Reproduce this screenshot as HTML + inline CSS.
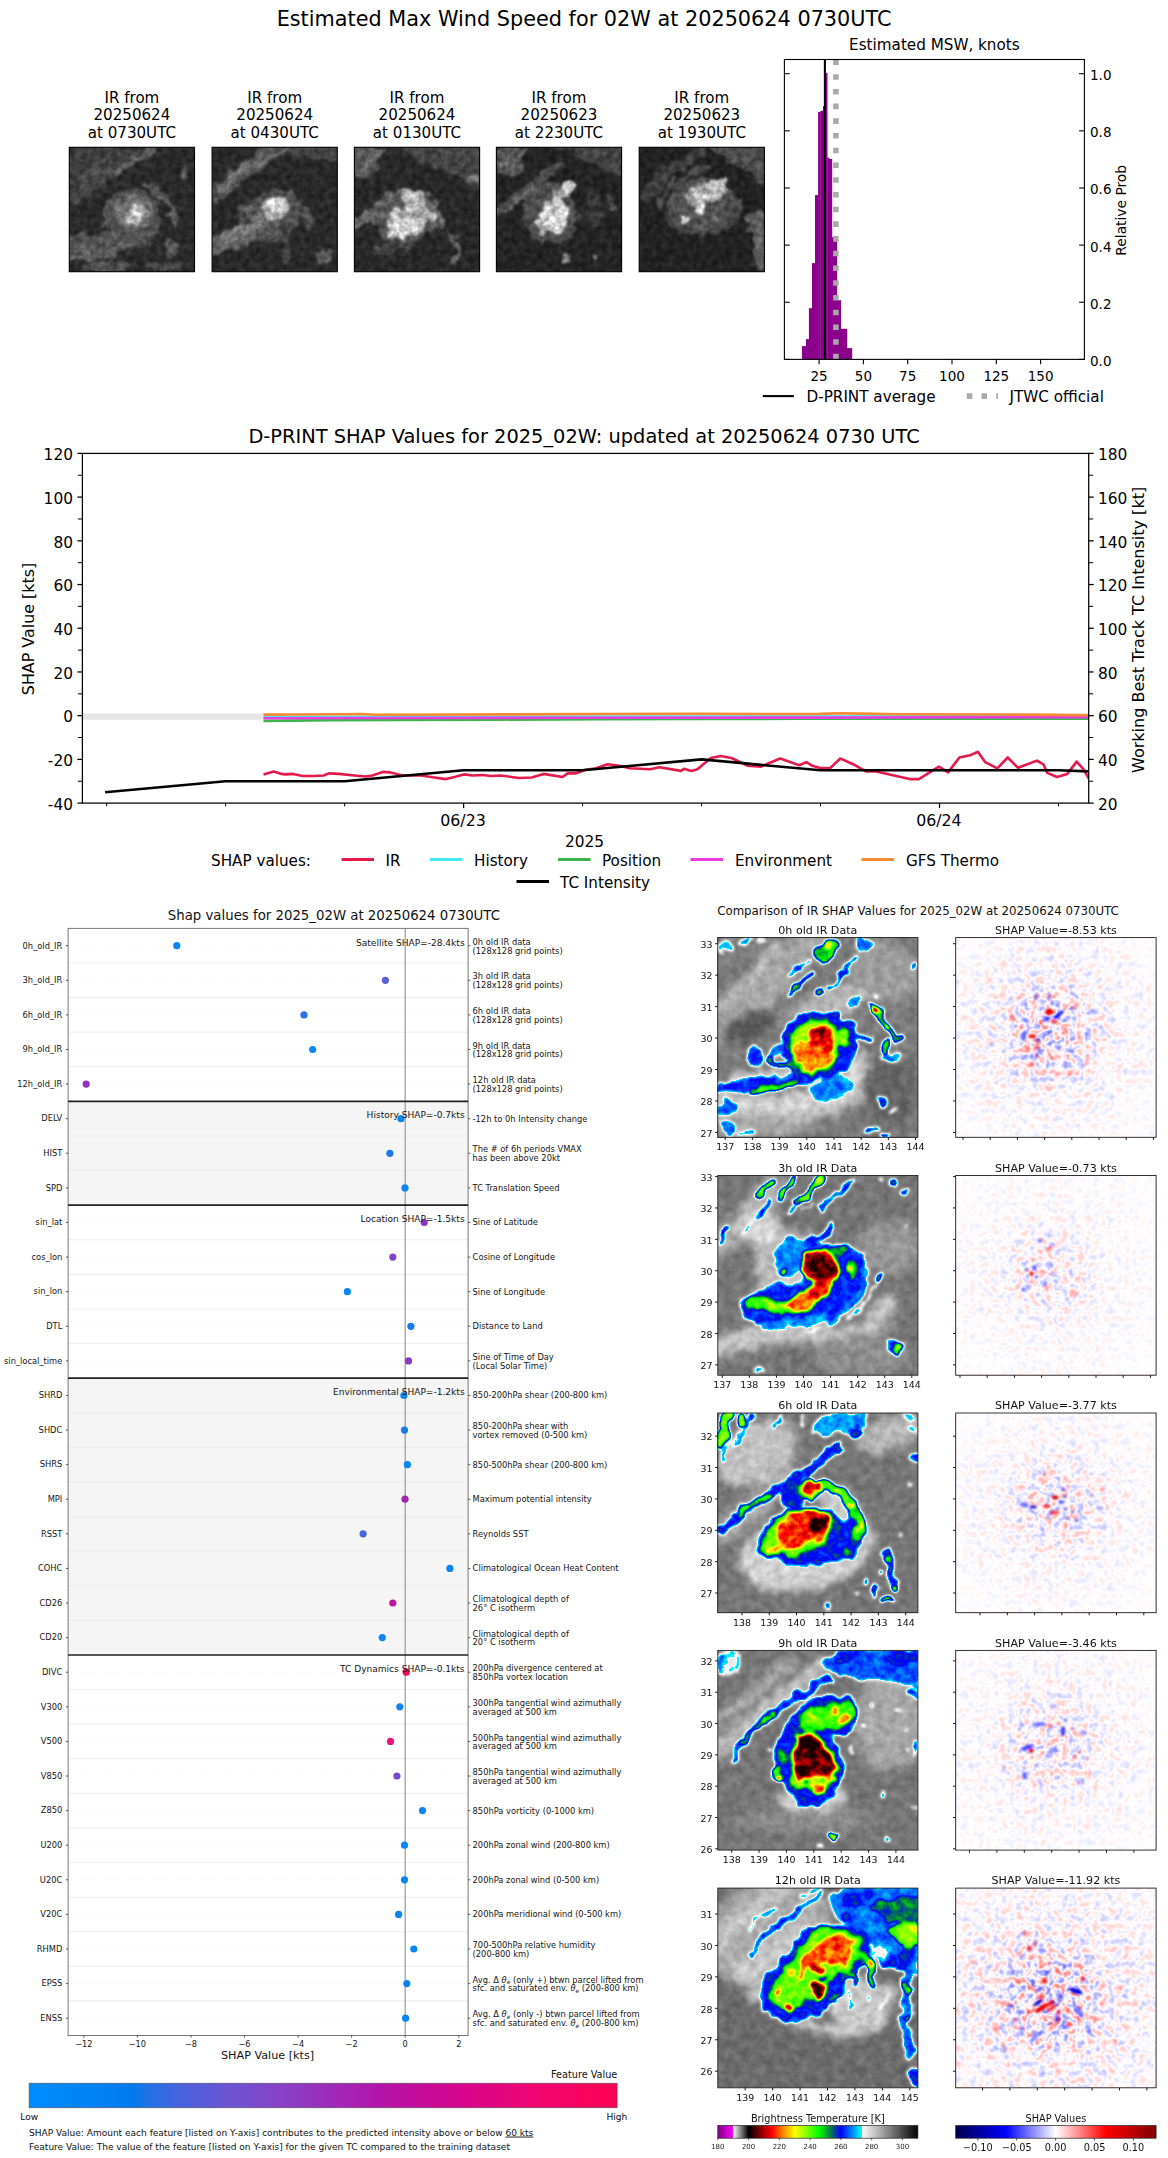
<!DOCTYPE html>
<html><head><meta charset="utf-8"><title>D-PRINT SHAP 02W</title>
<style>html,body{margin:0;padding:0;background:#fff}svg{display:block}text{font-family:"DejaVu Sans", "Liberation Sans", sans-serif;}</style>
</head><body>
<svg width="1168" height="2158" viewBox="0 0 1168 2158">
<rect width="1168" height="2158" fill="#fff"/>
<defs>
<filter id="irf0" filterUnits="userSpaceOnUse" x="705.8" y="925.6" width="224.1" height="223.7" color-interpolation-filters="sRGB"><feTurbulence type="fractalNoise" baseFrequency="0.07" numOctaves="2" seed="23" result="d"/><feDisplacementMap in="SourceGraphic" in2="d" scale="13" xChannelSelector="R" yChannelSelector="G" result="s"/><feGaussianBlur in="s" stdDeviation="1.7" result="b"/><feTurbulence type="fractalNoise" baseFrequency="0.12" numOctaves="3" seed="3" result="t"/><feColorMatrix in="t" type="matrix" values="1.6 0 0 0 -0.3  1.6 0 0 0 -0.3  1.6 0 0 0 -0.3  0 0 0 0 1" result="n"/><feComposite in="b" in2="n" operator="arithmetic" k1="0.13" k2="0.935" k3="0.02" k4="-0.01" result="f"/><feComponentTransfer in="f"><feFuncR type="table" tableValues="0 0.014 0.027 0.041 0.055 0.068 0.082 0.096 0.11 0.123 0.137 0.151 0.164 0.178 0.192 0.205 0.219 0.233 0.247 0.26 0.274 0.288 0.301 0.315 0.329 0.342 0.356 0.37 0.384 0.397 0.411 0.425 0.438 0.452 0.466 0.479 0.493 0.507 0.521 0.534 0.548 0.562 0.575 0.589 0.603 0.616 0.63 0.644 0.658 0.671 0.685 0.699 0.712 0.726 0.74 0.753 0.767 0.781 0.795 0.808 0.822 0.836 0.849 0.863 0.877 0.89 0.904 0.918 0.932 0.945 0.959 0.973 0.986 1 0 0 0 0 0 0 0 0 0 0 0 0 0 0 0 0 0 0 0 0 0 0 0 0 0 0 0 0 0 0 0 0 0 0 0 0 0 0 0 0 0 0 0 0 0 0 0 0 0 0 0 0 0 0 0 0.031 0.063 0.094 0.125 0.157 0.188 0.22 0.251 0.282 0.314 0.345 0.376 0.408 0.439 0.471 0.502 0.533 0.564 0.595 0.626 0.658 0.689 0.72 0.751 0.782 0.813 0.844 0.875 0.907 0.938 0.969 1 1 1 1 1 1 1 1 1 1 1 1 1 1 1 1 1 1 1 1 1 1 1 1 1 1 1 1 1 1 1 0.967 0.934 0.9 0.867 0.834 0.801 0.768 0.734 0.701 0.668 0.635 0.602 0.568 0.535 0.502 0.468 0.435 0.402 0.368 0.335 0.301 0.268 0.234 0.201 0.167 0.134 0.1 0.1 0.1 0.1 0.1 0.1 0.1 0.1 0.1 0.1 0.1 0.1 0.1 0.1 0.1 0.1 0.1 0.1 0.1 0.1 0.1 0.1 0.1 0.1"/><feFuncG type="table" tableValues="0 0.014 0.027 0.041 0.055 0.068 0.082 0.096 0.11 0.123 0.137 0.151 0.164 0.178 0.192 0.205 0.219 0.233 0.247 0.26 0.274 0.288 0.301 0.315 0.329 0.342 0.356 0.37 0.384 0.397 0.411 0.425 0.438 0.452 0.466 0.479 0.493 0.507 0.521 0.534 0.548 0.562 0.575 0.589 0.603 0.616 0.63 0.644 0.658 0.671 0.685 0.699 0.712 0.726 0.74 0.753 0.767 0.781 0.795 0.808 0.822 0.836 0.849 0.863 0.877 0.89 0.904 0.918 0.932 0.945 0.959 0.973 0.986 1 0.969 0.93 0.891 0.852 0.813 0.774 0.735 0.697 0.658 0.619 0.58 0.541 0.502 0.466 0.43 0.394 0.359 0.323 0.287 0.251 0.215 0.179 0.143 0.108 0.072 0.036 0 0.036 0.072 0.108 0.143 0.179 0.215 0.251 0.287 0.323 0.359 0.394 0.43 0.466 0.502 0.538 0.573 0.609 0.644 0.68 0.715 0.751 0.787 0.822 0.858 0.893 0.929 0.964 1 1 1 1 1 1 1 1 1 1 1 1 1 1 1 1 1 1 1 1 1 1 1 1 1 1 1 1 1 1 1 1 1 0.969 0.938 0.907 0.876 0.844 0.813 0.782 0.751 0.72 0.689 0.658 0.627 0.596 0.564 0.533 0.498 0.462 0.427 0.391 0.356 0.32 0.284 0.249 0.213 0.178 0.142 0.107 0.071 0.036 0 0 0 0 0 0 0 0 0 0 0 0 0 0 0 0 0 0 0 0 0 0 0 0 0 0 0 0 0 0 0 0 0 0 0 0 0 0 0 0 0 0 0 0 0 0 0 0 0 0 0"/><feFuncB type="table" tableValues="0 0.014 0.027 0.041 0.055 0.068 0.082 0.096 0.11 0.123 0.137 0.151 0.164 0.178 0.192 0.205 0.219 0.233 0.247 0.26 0.274 0.288 0.301 0.315 0.329 0.342 0.356 0.37 0.384 0.397 0.411 0.425 0.438 0.452 0.466 0.479 0.493 0.507 0.521 0.534 0.548 0.562 0.575 0.589 0.603 0.616 0.63 0.644 0.658 0.671 0.685 0.699 0.712 0.726 0.74 0.753 0.767 0.781 0.795 0.808 0.822 0.836 0.849 0.863 0.877 0.89 0.904 0.918 0.932 0.945 0.959 0.973 0.986 1 1 1 1 1 1 1 1 1 1 1 1 1 1 1 1 1 1 1 1 1 1 1 1 1 1 1 1 0.946 0.893 0.839 0.786 0.732 0.679 0.625 0.572 0.518 0.465 0.411 0.358 0.304 0.251 0.233 0.215 0.197 0.179 0.161 0.143 0.125 0.108 0.09 0.072 0.054 0.036 0.018 0 0 0 0 0 0 0 0 0 0 0 0 0 0 0 0 0 0 0 0 0 0 0 0 0 0 0 0 0 0 0 0 0 0 0 0 0 0 0 0 0 0 0 0 0 0 0 0 0 0 0 0 0 0 0 0 0 0 0 0 0 0 0 0 0 0 0 0 0 0 0 0 0 0 0 0 0 0 0 0 0 0 0 0 0 0 0 0 0 0 0 0 0 0 0 0 0 0 0 0 0 0 0 0 0 0 0 0 0 0 0 0 0"/></feComponentTransfer></filter>
<clipPath id="irc0"><rect x="717.8" y="937.6" width="200.1" height="199.7"/></clipPath>
<filter id="irf1" filterUnits="userSpaceOnUse" x="705.8" y="1163.5" width="224.1" height="223.7" color-interpolation-filters="sRGB"><feTurbulence type="fractalNoise" baseFrequency="0.07" numOctaves="2" seed="24" result="d"/><feDisplacementMap in="SourceGraphic" in2="d" scale="13" xChannelSelector="R" yChannelSelector="G" result="s"/><feGaussianBlur in="s" stdDeviation="1.7" result="b"/><feTurbulence type="fractalNoise" baseFrequency="0.12" numOctaves="3" seed="4" result="t"/><feColorMatrix in="t" type="matrix" values="1.6 0 0 0 -0.3  1.6 0 0 0 -0.3  1.6 0 0 0 -0.3  0 0 0 0 1" result="n"/><feComposite in="b" in2="n" operator="arithmetic" k1="0.13" k2="0.935" k3="0.02" k4="-0.01" result="f"/><feComponentTransfer in="f"><feFuncR type="table" tableValues="0 0.014 0.027 0.041 0.055 0.068 0.082 0.096 0.11 0.123 0.137 0.151 0.164 0.178 0.192 0.205 0.219 0.233 0.247 0.26 0.274 0.288 0.301 0.315 0.329 0.342 0.356 0.37 0.384 0.397 0.411 0.425 0.438 0.452 0.466 0.479 0.493 0.507 0.521 0.534 0.548 0.562 0.575 0.589 0.603 0.616 0.63 0.644 0.658 0.671 0.685 0.699 0.712 0.726 0.74 0.753 0.767 0.781 0.795 0.808 0.822 0.836 0.849 0.863 0.877 0.89 0.904 0.918 0.932 0.945 0.959 0.973 0.986 1 0 0 0 0 0 0 0 0 0 0 0 0 0 0 0 0 0 0 0 0 0 0 0 0 0 0 0 0 0 0 0 0 0 0 0 0 0 0 0 0 0 0 0 0 0 0 0 0 0 0 0 0 0 0 0 0.031 0.063 0.094 0.125 0.157 0.188 0.22 0.251 0.282 0.314 0.345 0.376 0.408 0.439 0.471 0.502 0.533 0.564 0.595 0.626 0.658 0.689 0.72 0.751 0.782 0.813 0.844 0.875 0.907 0.938 0.969 1 1 1 1 1 1 1 1 1 1 1 1 1 1 1 1 1 1 1 1 1 1 1 1 1 1 1 1 1 1 1 0.967 0.934 0.9 0.867 0.834 0.801 0.768 0.734 0.701 0.668 0.635 0.602 0.568 0.535 0.502 0.468 0.435 0.402 0.368 0.335 0.301 0.268 0.234 0.201 0.167 0.134 0.1 0.1 0.1 0.1 0.1 0.1 0.1 0.1 0.1 0.1 0.1 0.1 0.1 0.1 0.1 0.1 0.1 0.1 0.1 0.1 0.1 0.1 0.1 0.1"/><feFuncG type="table" tableValues="0 0.014 0.027 0.041 0.055 0.068 0.082 0.096 0.11 0.123 0.137 0.151 0.164 0.178 0.192 0.205 0.219 0.233 0.247 0.26 0.274 0.288 0.301 0.315 0.329 0.342 0.356 0.37 0.384 0.397 0.411 0.425 0.438 0.452 0.466 0.479 0.493 0.507 0.521 0.534 0.548 0.562 0.575 0.589 0.603 0.616 0.63 0.644 0.658 0.671 0.685 0.699 0.712 0.726 0.74 0.753 0.767 0.781 0.795 0.808 0.822 0.836 0.849 0.863 0.877 0.89 0.904 0.918 0.932 0.945 0.959 0.973 0.986 1 0.969 0.93 0.891 0.852 0.813 0.774 0.735 0.697 0.658 0.619 0.58 0.541 0.502 0.466 0.43 0.394 0.359 0.323 0.287 0.251 0.215 0.179 0.143 0.108 0.072 0.036 0 0.036 0.072 0.108 0.143 0.179 0.215 0.251 0.287 0.323 0.359 0.394 0.43 0.466 0.502 0.538 0.573 0.609 0.644 0.68 0.715 0.751 0.787 0.822 0.858 0.893 0.929 0.964 1 1 1 1 1 1 1 1 1 1 1 1 1 1 1 1 1 1 1 1 1 1 1 1 1 1 1 1 1 1 1 1 1 0.969 0.938 0.907 0.876 0.844 0.813 0.782 0.751 0.72 0.689 0.658 0.627 0.596 0.564 0.533 0.498 0.462 0.427 0.391 0.356 0.32 0.284 0.249 0.213 0.178 0.142 0.107 0.071 0.036 0 0 0 0 0 0 0 0 0 0 0 0 0 0 0 0 0 0 0 0 0 0 0 0 0 0 0 0 0 0 0 0 0 0 0 0 0 0 0 0 0 0 0 0 0 0 0 0 0 0 0"/><feFuncB type="table" tableValues="0 0.014 0.027 0.041 0.055 0.068 0.082 0.096 0.11 0.123 0.137 0.151 0.164 0.178 0.192 0.205 0.219 0.233 0.247 0.26 0.274 0.288 0.301 0.315 0.329 0.342 0.356 0.37 0.384 0.397 0.411 0.425 0.438 0.452 0.466 0.479 0.493 0.507 0.521 0.534 0.548 0.562 0.575 0.589 0.603 0.616 0.63 0.644 0.658 0.671 0.685 0.699 0.712 0.726 0.74 0.753 0.767 0.781 0.795 0.808 0.822 0.836 0.849 0.863 0.877 0.89 0.904 0.918 0.932 0.945 0.959 0.973 0.986 1 1 1 1 1 1 1 1 1 1 1 1 1 1 1 1 1 1 1 1 1 1 1 1 1 1 1 1 0.946 0.893 0.839 0.786 0.732 0.679 0.625 0.572 0.518 0.465 0.411 0.358 0.304 0.251 0.233 0.215 0.197 0.179 0.161 0.143 0.125 0.108 0.09 0.072 0.054 0.036 0.018 0 0 0 0 0 0 0 0 0 0 0 0 0 0 0 0 0 0 0 0 0 0 0 0 0 0 0 0 0 0 0 0 0 0 0 0 0 0 0 0 0 0 0 0 0 0 0 0 0 0 0 0 0 0 0 0 0 0 0 0 0 0 0 0 0 0 0 0 0 0 0 0 0 0 0 0 0 0 0 0 0 0 0 0 0 0 0 0 0 0 0 0 0 0 0 0 0 0 0 0 0 0 0 0 0 0 0 0 0 0 0 0 0"/></feComponentTransfer></filter>
<clipPath id="irc1"><rect x="717.8" y="1175.5" width="200.1" height="199.7"/></clipPath>
<filter id="irf2" filterUnits="userSpaceOnUse" x="705.8" y="1401.0" width="224.1" height="223.7" color-interpolation-filters="sRGB"><feTurbulence type="fractalNoise" baseFrequency="0.07" numOctaves="2" seed="25" result="d"/><feDisplacementMap in="SourceGraphic" in2="d" scale="13" xChannelSelector="R" yChannelSelector="G" result="s"/><feGaussianBlur in="s" stdDeviation="1.7" result="b"/><feTurbulence type="fractalNoise" baseFrequency="0.12" numOctaves="3" seed="5" result="t"/><feColorMatrix in="t" type="matrix" values="1.6 0 0 0 -0.3  1.6 0 0 0 -0.3  1.6 0 0 0 -0.3  0 0 0 0 1" result="n"/><feComposite in="b" in2="n" operator="arithmetic" k1="0.13" k2="0.935" k3="0.02" k4="-0.01" result="f"/><feComponentTransfer in="f"><feFuncR type="table" tableValues="0 0.014 0.027 0.041 0.055 0.068 0.082 0.096 0.11 0.123 0.137 0.151 0.164 0.178 0.192 0.205 0.219 0.233 0.247 0.26 0.274 0.288 0.301 0.315 0.329 0.342 0.356 0.37 0.384 0.397 0.411 0.425 0.438 0.452 0.466 0.479 0.493 0.507 0.521 0.534 0.548 0.562 0.575 0.589 0.603 0.616 0.63 0.644 0.658 0.671 0.685 0.699 0.712 0.726 0.74 0.753 0.767 0.781 0.795 0.808 0.822 0.836 0.849 0.863 0.877 0.89 0.904 0.918 0.932 0.945 0.959 0.973 0.986 1 0 0 0 0 0 0 0 0 0 0 0 0 0 0 0 0 0 0 0 0 0 0 0 0 0 0 0 0 0 0 0 0 0 0 0 0 0 0 0 0 0 0 0 0 0 0 0 0 0 0 0 0 0 0 0 0.031 0.063 0.094 0.125 0.157 0.188 0.22 0.251 0.282 0.314 0.345 0.376 0.408 0.439 0.471 0.502 0.533 0.564 0.595 0.626 0.658 0.689 0.72 0.751 0.782 0.813 0.844 0.875 0.907 0.938 0.969 1 1 1 1 1 1 1 1 1 1 1 1 1 1 1 1 1 1 1 1 1 1 1 1 1 1 1 1 1 1 1 0.967 0.934 0.9 0.867 0.834 0.801 0.768 0.734 0.701 0.668 0.635 0.602 0.568 0.535 0.502 0.468 0.435 0.402 0.368 0.335 0.301 0.268 0.234 0.201 0.167 0.134 0.1 0.1 0.1 0.1 0.1 0.1 0.1 0.1 0.1 0.1 0.1 0.1 0.1 0.1 0.1 0.1 0.1 0.1 0.1 0.1 0.1 0.1 0.1 0.1"/><feFuncG type="table" tableValues="0 0.014 0.027 0.041 0.055 0.068 0.082 0.096 0.11 0.123 0.137 0.151 0.164 0.178 0.192 0.205 0.219 0.233 0.247 0.26 0.274 0.288 0.301 0.315 0.329 0.342 0.356 0.37 0.384 0.397 0.411 0.425 0.438 0.452 0.466 0.479 0.493 0.507 0.521 0.534 0.548 0.562 0.575 0.589 0.603 0.616 0.63 0.644 0.658 0.671 0.685 0.699 0.712 0.726 0.74 0.753 0.767 0.781 0.795 0.808 0.822 0.836 0.849 0.863 0.877 0.89 0.904 0.918 0.932 0.945 0.959 0.973 0.986 1 0.969 0.93 0.891 0.852 0.813 0.774 0.735 0.697 0.658 0.619 0.58 0.541 0.502 0.466 0.43 0.394 0.359 0.323 0.287 0.251 0.215 0.179 0.143 0.108 0.072 0.036 0 0.036 0.072 0.108 0.143 0.179 0.215 0.251 0.287 0.323 0.359 0.394 0.43 0.466 0.502 0.538 0.573 0.609 0.644 0.68 0.715 0.751 0.787 0.822 0.858 0.893 0.929 0.964 1 1 1 1 1 1 1 1 1 1 1 1 1 1 1 1 1 1 1 1 1 1 1 1 1 1 1 1 1 1 1 1 1 0.969 0.938 0.907 0.876 0.844 0.813 0.782 0.751 0.72 0.689 0.658 0.627 0.596 0.564 0.533 0.498 0.462 0.427 0.391 0.356 0.32 0.284 0.249 0.213 0.178 0.142 0.107 0.071 0.036 0 0 0 0 0 0 0 0 0 0 0 0 0 0 0 0 0 0 0 0 0 0 0 0 0 0 0 0 0 0 0 0 0 0 0 0 0 0 0 0 0 0 0 0 0 0 0 0 0 0 0"/><feFuncB type="table" tableValues="0 0.014 0.027 0.041 0.055 0.068 0.082 0.096 0.11 0.123 0.137 0.151 0.164 0.178 0.192 0.205 0.219 0.233 0.247 0.26 0.274 0.288 0.301 0.315 0.329 0.342 0.356 0.37 0.384 0.397 0.411 0.425 0.438 0.452 0.466 0.479 0.493 0.507 0.521 0.534 0.548 0.562 0.575 0.589 0.603 0.616 0.63 0.644 0.658 0.671 0.685 0.699 0.712 0.726 0.74 0.753 0.767 0.781 0.795 0.808 0.822 0.836 0.849 0.863 0.877 0.89 0.904 0.918 0.932 0.945 0.959 0.973 0.986 1 1 1 1 1 1 1 1 1 1 1 1 1 1 1 1 1 1 1 1 1 1 1 1 1 1 1 1 0.946 0.893 0.839 0.786 0.732 0.679 0.625 0.572 0.518 0.465 0.411 0.358 0.304 0.251 0.233 0.215 0.197 0.179 0.161 0.143 0.125 0.108 0.09 0.072 0.054 0.036 0.018 0 0 0 0 0 0 0 0 0 0 0 0 0 0 0 0 0 0 0 0 0 0 0 0 0 0 0 0 0 0 0 0 0 0 0 0 0 0 0 0 0 0 0 0 0 0 0 0 0 0 0 0 0 0 0 0 0 0 0 0 0 0 0 0 0 0 0 0 0 0 0 0 0 0 0 0 0 0 0 0 0 0 0 0 0 0 0 0 0 0 0 0 0 0 0 0 0 0 0 0 0 0 0 0 0 0 0 0 0 0 0 0 0"/></feComponentTransfer></filter>
<clipPath id="irc2"><rect x="717.8" y="1413.0" width="200.1" height="199.7"/></clipPath>
<filter id="irf3" filterUnits="userSpaceOnUse" x="705.8" y="1638.4" width="224.1" height="223.7" color-interpolation-filters="sRGB"><feTurbulence type="fractalNoise" baseFrequency="0.07" numOctaves="2" seed="26" result="d"/><feDisplacementMap in="SourceGraphic" in2="d" scale="13" xChannelSelector="R" yChannelSelector="G" result="s"/><feGaussianBlur in="s" stdDeviation="1.7" result="b"/><feTurbulence type="fractalNoise" baseFrequency="0.12" numOctaves="3" seed="6" result="t"/><feColorMatrix in="t" type="matrix" values="1.6 0 0 0 -0.3  1.6 0 0 0 -0.3  1.6 0 0 0 -0.3  0 0 0 0 1" result="n"/><feComposite in="b" in2="n" operator="arithmetic" k1="0.13" k2="0.935" k3="0.02" k4="-0.01" result="f"/><feComponentTransfer in="f"><feFuncR type="table" tableValues="0 0.014 0.027 0.041 0.055 0.068 0.082 0.096 0.11 0.123 0.137 0.151 0.164 0.178 0.192 0.205 0.219 0.233 0.247 0.26 0.274 0.288 0.301 0.315 0.329 0.342 0.356 0.37 0.384 0.397 0.411 0.425 0.438 0.452 0.466 0.479 0.493 0.507 0.521 0.534 0.548 0.562 0.575 0.589 0.603 0.616 0.63 0.644 0.658 0.671 0.685 0.699 0.712 0.726 0.74 0.753 0.767 0.781 0.795 0.808 0.822 0.836 0.849 0.863 0.877 0.89 0.904 0.918 0.932 0.945 0.959 0.973 0.986 1 0 0 0 0 0 0 0 0 0 0 0 0 0 0 0 0 0 0 0 0 0 0 0 0 0 0 0 0 0 0 0 0 0 0 0 0 0 0 0 0 0 0 0 0 0 0 0 0 0 0 0 0 0 0 0 0.031 0.063 0.094 0.125 0.157 0.188 0.22 0.251 0.282 0.314 0.345 0.376 0.408 0.439 0.471 0.502 0.533 0.564 0.595 0.626 0.658 0.689 0.72 0.751 0.782 0.813 0.844 0.875 0.907 0.938 0.969 1 1 1 1 1 1 1 1 1 1 1 1 1 1 1 1 1 1 1 1 1 1 1 1 1 1 1 1 1 1 1 0.967 0.934 0.9 0.867 0.834 0.801 0.768 0.734 0.701 0.668 0.635 0.602 0.568 0.535 0.502 0.468 0.435 0.402 0.368 0.335 0.301 0.268 0.234 0.201 0.167 0.134 0.1 0.1 0.1 0.1 0.1 0.1 0.1 0.1 0.1 0.1 0.1 0.1 0.1 0.1 0.1 0.1 0.1 0.1 0.1 0.1 0.1 0.1 0.1 0.1"/><feFuncG type="table" tableValues="0 0.014 0.027 0.041 0.055 0.068 0.082 0.096 0.11 0.123 0.137 0.151 0.164 0.178 0.192 0.205 0.219 0.233 0.247 0.26 0.274 0.288 0.301 0.315 0.329 0.342 0.356 0.37 0.384 0.397 0.411 0.425 0.438 0.452 0.466 0.479 0.493 0.507 0.521 0.534 0.548 0.562 0.575 0.589 0.603 0.616 0.63 0.644 0.658 0.671 0.685 0.699 0.712 0.726 0.74 0.753 0.767 0.781 0.795 0.808 0.822 0.836 0.849 0.863 0.877 0.89 0.904 0.918 0.932 0.945 0.959 0.973 0.986 1 0.969 0.93 0.891 0.852 0.813 0.774 0.735 0.697 0.658 0.619 0.58 0.541 0.502 0.466 0.43 0.394 0.359 0.323 0.287 0.251 0.215 0.179 0.143 0.108 0.072 0.036 0 0.036 0.072 0.108 0.143 0.179 0.215 0.251 0.287 0.323 0.359 0.394 0.43 0.466 0.502 0.538 0.573 0.609 0.644 0.68 0.715 0.751 0.787 0.822 0.858 0.893 0.929 0.964 1 1 1 1 1 1 1 1 1 1 1 1 1 1 1 1 1 1 1 1 1 1 1 1 1 1 1 1 1 1 1 1 1 0.969 0.938 0.907 0.876 0.844 0.813 0.782 0.751 0.72 0.689 0.658 0.627 0.596 0.564 0.533 0.498 0.462 0.427 0.391 0.356 0.32 0.284 0.249 0.213 0.178 0.142 0.107 0.071 0.036 0 0 0 0 0 0 0 0 0 0 0 0 0 0 0 0 0 0 0 0 0 0 0 0 0 0 0 0 0 0 0 0 0 0 0 0 0 0 0 0 0 0 0 0 0 0 0 0 0 0 0"/><feFuncB type="table" tableValues="0 0.014 0.027 0.041 0.055 0.068 0.082 0.096 0.11 0.123 0.137 0.151 0.164 0.178 0.192 0.205 0.219 0.233 0.247 0.26 0.274 0.288 0.301 0.315 0.329 0.342 0.356 0.37 0.384 0.397 0.411 0.425 0.438 0.452 0.466 0.479 0.493 0.507 0.521 0.534 0.548 0.562 0.575 0.589 0.603 0.616 0.63 0.644 0.658 0.671 0.685 0.699 0.712 0.726 0.74 0.753 0.767 0.781 0.795 0.808 0.822 0.836 0.849 0.863 0.877 0.89 0.904 0.918 0.932 0.945 0.959 0.973 0.986 1 1 1 1 1 1 1 1 1 1 1 1 1 1 1 1 1 1 1 1 1 1 1 1 1 1 1 1 0.946 0.893 0.839 0.786 0.732 0.679 0.625 0.572 0.518 0.465 0.411 0.358 0.304 0.251 0.233 0.215 0.197 0.179 0.161 0.143 0.125 0.108 0.09 0.072 0.054 0.036 0.018 0 0 0 0 0 0 0 0 0 0 0 0 0 0 0 0 0 0 0 0 0 0 0 0 0 0 0 0 0 0 0 0 0 0 0 0 0 0 0 0 0 0 0 0 0 0 0 0 0 0 0 0 0 0 0 0 0 0 0 0 0 0 0 0 0 0 0 0 0 0 0 0 0 0 0 0 0 0 0 0 0 0 0 0 0 0 0 0 0 0 0 0 0 0 0 0 0 0 0 0 0 0 0 0 0 0 0 0 0 0 0 0 0"/></feComponentTransfer></filter>
<clipPath id="irc3"><rect x="717.8" y="1650.4" width="200.1" height="199.7"/></clipPath>
<filter id="irf4" filterUnits="userSpaceOnUse" x="705.8" y="1876.1" width="224.1" height="223.7" color-interpolation-filters="sRGB"><feTurbulence type="fractalNoise" baseFrequency="0.07" numOctaves="2" seed="27" result="d"/><feDisplacementMap in="SourceGraphic" in2="d" scale="13" xChannelSelector="R" yChannelSelector="G" result="s"/><feGaussianBlur in="s" stdDeviation="1.7" result="b"/><feTurbulence type="fractalNoise" baseFrequency="0.12" numOctaves="3" seed="7" result="t"/><feColorMatrix in="t" type="matrix" values="1.6 0 0 0 -0.3  1.6 0 0 0 -0.3  1.6 0 0 0 -0.3  0 0 0 0 1" result="n"/><feComposite in="b" in2="n" operator="arithmetic" k1="0.13" k2="0.935" k3="0.02" k4="-0.01" result="f"/><feComponentTransfer in="f"><feFuncR type="table" tableValues="0 0.014 0.027 0.041 0.055 0.068 0.082 0.096 0.11 0.123 0.137 0.151 0.164 0.178 0.192 0.205 0.219 0.233 0.247 0.26 0.274 0.288 0.301 0.315 0.329 0.342 0.356 0.37 0.384 0.397 0.411 0.425 0.438 0.452 0.466 0.479 0.493 0.507 0.521 0.534 0.548 0.562 0.575 0.589 0.603 0.616 0.63 0.644 0.658 0.671 0.685 0.699 0.712 0.726 0.74 0.753 0.767 0.781 0.795 0.808 0.822 0.836 0.849 0.863 0.877 0.89 0.904 0.918 0.932 0.945 0.959 0.973 0.986 1 0 0 0 0 0 0 0 0 0 0 0 0 0 0 0 0 0 0 0 0 0 0 0 0 0 0 0 0 0 0 0 0 0 0 0 0 0 0 0 0 0 0 0 0 0 0 0 0 0 0 0 0 0 0 0 0.031 0.063 0.094 0.125 0.157 0.188 0.22 0.251 0.282 0.314 0.345 0.376 0.408 0.439 0.471 0.502 0.533 0.564 0.595 0.626 0.658 0.689 0.72 0.751 0.782 0.813 0.844 0.875 0.907 0.938 0.969 1 1 1 1 1 1 1 1 1 1 1 1 1 1 1 1 1 1 1 1 1 1 1 1 1 1 1 1 1 1 1 0.967 0.934 0.9 0.867 0.834 0.801 0.768 0.734 0.701 0.668 0.635 0.602 0.568 0.535 0.502 0.468 0.435 0.402 0.368 0.335 0.301 0.268 0.234 0.201 0.167 0.134 0.1 0.1 0.1 0.1 0.1 0.1 0.1 0.1 0.1 0.1 0.1 0.1 0.1 0.1 0.1 0.1 0.1 0.1 0.1 0.1 0.1 0.1 0.1 0.1"/><feFuncG type="table" tableValues="0 0.014 0.027 0.041 0.055 0.068 0.082 0.096 0.11 0.123 0.137 0.151 0.164 0.178 0.192 0.205 0.219 0.233 0.247 0.26 0.274 0.288 0.301 0.315 0.329 0.342 0.356 0.37 0.384 0.397 0.411 0.425 0.438 0.452 0.466 0.479 0.493 0.507 0.521 0.534 0.548 0.562 0.575 0.589 0.603 0.616 0.63 0.644 0.658 0.671 0.685 0.699 0.712 0.726 0.74 0.753 0.767 0.781 0.795 0.808 0.822 0.836 0.849 0.863 0.877 0.89 0.904 0.918 0.932 0.945 0.959 0.973 0.986 1 0.969 0.93 0.891 0.852 0.813 0.774 0.735 0.697 0.658 0.619 0.58 0.541 0.502 0.466 0.43 0.394 0.359 0.323 0.287 0.251 0.215 0.179 0.143 0.108 0.072 0.036 0 0.036 0.072 0.108 0.143 0.179 0.215 0.251 0.287 0.323 0.359 0.394 0.43 0.466 0.502 0.538 0.573 0.609 0.644 0.68 0.715 0.751 0.787 0.822 0.858 0.893 0.929 0.964 1 1 1 1 1 1 1 1 1 1 1 1 1 1 1 1 1 1 1 1 1 1 1 1 1 1 1 1 1 1 1 1 1 0.969 0.938 0.907 0.876 0.844 0.813 0.782 0.751 0.72 0.689 0.658 0.627 0.596 0.564 0.533 0.498 0.462 0.427 0.391 0.356 0.32 0.284 0.249 0.213 0.178 0.142 0.107 0.071 0.036 0 0 0 0 0 0 0 0 0 0 0 0 0 0 0 0 0 0 0 0 0 0 0 0 0 0 0 0 0 0 0 0 0 0 0 0 0 0 0 0 0 0 0 0 0 0 0 0 0 0 0"/><feFuncB type="table" tableValues="0 0.014 0.027 0.041 0.055 0.068 0.082 0.096 0.11 0.123 0.137 0.151 0.164 0.178 0.192 0.205 0.219 0.233 0.247 0.26 0.274 0.288 0.301 0.315 0.329 0.342 0.356 0.37 0.384 0.397 0.411 0.425 0.438 0.452 0.466 0.479 0.493 0.507 0.521 0.534 0.548 0.562 0.575 0.589 0.603 0.616 0.63 0.644 0.658 0.671 0.685 0.699 0.712 0.726 0.74 0.753 0.767 0.781 0.795 0.808 0.822 0.836 0.849 0.863 0.877 0.89 0.904 0.918 0.932 0.945 0.959 0.973 0.986 1 1 1 1 1 1 1 1 1 1 1 1 1 1 1 1 1 1 1 1 1 1 1 1 1 1 1 1 0.946 0.893 0.839 0.786 0.732 0.679 0.625 0.572 0.518 0.465 0.411 0.358 0.304 0.251 0.233 0.215 0.197 0.179 0.161 0.143 0.125 0.108 0.09 0.072 0.054 0.036 0.018 0 0 0 0 0 0 0 0 0 0 0 0 0 0 0 0 0 0 0 0 0 0 0 0 0 0 0 0 0 0 0 0 0 0 0 0 0 0 0 0 0 0 0 0 0 0 0 0 0 0 0 0 0 0 0 0 0 0 0 0 0 0 0 0 0 0 0 0 0 0 0 0 0 0 0 0 0 0 0 0 0 0 0 0 0 0 0 0 0 0 0 0 0 0 0 0 0 0 0 0 0 0 0 0 0 0 0 0 0 0 0 0 0"/></feComponentTransfer></filter>
<clipPath id="irc4"><rect x="717.8" y="1888.1" width="200.1" height="199.7"/></clipPath>
<filter id="shf0" filterUnits="userSpaceOnUse" x="955.7" y="937.6" width="200.4" height="199.7" color-interpolation-filters="sRGB"><feTurbulence type="fractalNoise" baseFrequency="0.13" numOctaves="2" seed="11" result="t"/><feColorMatrix in="t" type="matrix" values="1 0 0 0 0  1 0 0 0 0  1 0 0 0 0  0 0 0 0 1" result="n"/><feComposite in="SourceGraphic" in2="n" operator="arithmetic" k1="1.0" k2="-0.5" k3="0" k4="0.5" result="f"/><feComponentTransfer in="f"><feFuncR type="table" tableValues="0 0 1 1 0.5"/><feFuncG type="table" tableValues="0 0 1 0 0"/><feFuncB type="table" tableValues="0.3 1 1 0 0"/></feComponentTransfer></filter>
<radialGradient id="shg0" cx="0.47" cy="0.47" r="0.62"><stop offset="0" stop-color="rgb(117,117,117)"/><stop offset="0.22" stop-color="rgb(91,91,91)"/><stop offset="0.5" stop-color="rgb(37,37,37)"/><stop offset="1" stop-color="rgb(10,10,10)"/></radialGradient>
<clipPath id="shc0"><rect x="955.7" y="937.6" width="200.4" height="199.7"/></clipPath>
<filter id="shf1" filterUnits="userSpaceOnUse" x="955.7" y="1175.5" width="200.4" height="199.7" color-interpolation-filters="sRGB"><feTurbulence type="fractalNoise" baseFrequency="0.13" numOctaves="2" seed="18" result="t"/><feColorMatrix in="t" type="matrix" values="1 0 0 0 0  1 0 0 0 0  1 0 0 0 0  0 0 0 0 1" result="n"/><feComposite in="SourceGraphic" in2="n" operator="arithmetic" k1="1.0" k2="-0.5" k3="0" k4="0.5" result="f"/><feComponentTransfer in="f"><feFuncR type="table" tableValues="0 0 1 1 0.5"/><feFuncG type="table" tableValues="0 0 1 0 0"/><feFuncB type="table" tableValues="0.3 1 1 0 0"/></feComponentTransfer></filter>
<radialGradient id="shg1" cx="0.46" cy="0.5" r="0.62"><stop offset="0" stop-color="rgb(61,61,61)"/><stop offset="0.22" stop-color="rgb(48,48,48)"/><stop offset="0.5" stop-color="rgb(21,21,21)"/><stop offset="1" stop-color="rgb(8,8,8)"/></radialGradient>
<clipPath id="shc1"><rect x="955.7" y="1175.5" width="200.4" height="199.7"/></clipPath>
<filter id="shf2" filterUnits="userSpaceOnUse" x="955.7" y="1413.0" width="200.4" height="199.7" color-interpolation-filters="sRGB"><feTurbulence type="fractalNoise" baseFrequency="0.13" numOctaves="2" seed="25" result="t"/><feColorMatrix in="t" type="matrix" values="1 0 0 0 0  1 0 0 0 0  1 0 0 0 0  0 0 0 0 1" result="n"/><feComposite in="SourceGraphic" in2="n" operator="arithmetic" k1="1.0" k2="-0.5" k3="0" k4="0.5" result="f"/><feComponentTransfer in="f"><feFuncR type="table" tableValues="0 0 1 1 0.5"/><feFuncG type="table" tableValues="0 0 1 0 0"/><feFuncB type="table" tableValues="0.3 1 1 0 0"/></feComponentTransfer></filter>
<radialGradient id="shg2" cx="0.5" cy="0.47" r="0.62"><stop offset="0" stop-color="rgb(82,82,82)"/><stop offset="0.22" stop-color="rgb(63,63,63)"/><stop offset="0.5" stop-color="rgb(27,27,27)"/><stop offset="1" stop-color="rgb(9,9,9)"/></radialGradient>
<clipPath id="shc2"><rect x="955.7" y="1413.0" width="200.4" height="199.7"/></clipPath>
<filter id="shf3" filterUnits="userSpaceOnUse" x="955.7" y="1650.4" width="200.4" height="199.7" color-interpolation-filters="sRGB"><feTurbulence type="fractalNoise" baseFrequency="0.13" numOctaves="2" seed="32" result="t"/><feColorMatrix in="t" type="matrix" values="1 0 0 0 0  1 0 0 0 0  1 0 0 0 0  0 0 0 0 1" result="n"/><feComposite in="SourceGraphic" in2="n" operator="arithmetic" k1="1.0" k2="-0.5" k3="0" k4="0.5" result="f"/><feComponentTransfer in="f"><feFuncR type="table" tableValues="0 0 1 1 0.5"/><feFuncG type="table" tableValues="0 0 1 0 0"/><feFuncB type="table" tableValues="0.3 1 1 0 0"/></feComponentTransfer></filter>
<radialGradient id="shg3" cx="0.48" cy="0.48" r="0.62"><stop offset="0" stop-color="rgb(82,82,82)"/><stop offset="0.22" stop-color="rgb(64,64,64)"/><stop offset="0.5" stop-color="rgb(29,29,29)"/><stop offset="1" stop-color="rgb(11,11,11)"/></radialGradient>
<clipPath id="shc3"><rect x="955.7" y="1650.4" width="200.4" height="199.7"/></clipPath>
<filter id="shf4" filterUnits="userSpaceOnUse" x="955.7" y="1888.1" width="200.4" height="199.7" color-interpolation-filters="sRGB"><feTurbulence type="fractalNoise" baseFrequency="0.13" numOctaves="2" seed="39" result="t"/><feColorMatrix in="t" type="matrix" values="1 0 0 0 0  1 0 0 0 0  1 0 0 0 0  0 0 0 0 1" result="n"/><feComposite in="SourceGraphic" in2="n" operator="arithmetic" k1="1.0" k2="-0.5" k3="0" k4="0.5" result="f"/><feComponentTransfer in="f"><feFuncR type="table" tableValues="0 0 1 1 0.5"/><feFuncG type="table" tableValues="0 0 1 0 0"/><feFuncB type="table" tableValues="0.3 1 1 0 0"/></feComponentTransfer></filter>
<radialGradient id="shg4" cx="0.48" cy="0.55" r="0.62"><stop offset="0" stop-color="rgb(148,148,148)"/><stop offset="0.22" stop-color="rgb(117,117,117)"/><stop offset="0.5" stop-color="rgb(56,56,56)"/><stop offset="1" stop-color="rgb(26,26,26)"/></radialGradient>
<clipPath id="shc4"><rect x="955.7" y="1888.1" width="200.4" height="199.7"/></clipPath>
<filter id="cirblur" filterUnits="userSpaceOnUse" x="-150" y="-150" width="1470" height="1470" color-interpolation-filters="sRGB"><feGaussianBlur stdDeviation="26"/></filter>
<filter id="spotblur" x="-50%" y="-50%" width="200%" height="200%"><feGaussianBlur stdDeviation="0.9"/></filter>
<filter id="thf0" filterUnits="userSpaceOnUse" x="61.3" y="139.3" width="141.0" height="141.0" color-interpolation-filters="sRGB"><feTurbulence type="fractalNoise" baseFrequency="0.09" numOctaves="2" seed="45" result="d"/><feDisplacementMap in="SourceGraphic" in2="d" scale="15" xChannelSelector="R" yChannelSelector="G" result="s"/><feGaussianBlur in="s" stdDeviation="1.15" result="b"/><feTurbulence type="fractalNoise" baseFrequency="0.16" numOctaves="3" seed="5" result="t"/><feColorMatrix in="t" type="matrix" values="1.6 0 0 0 -0.3  1.6 0 0 0 -0.3  1.6 0 0 0 -0.3  0 0 0 0 1" result="n"/><feComposite in="b" in2="n" operator="arithmetic" k1="0.5" k2="0.75" k3="0.03" k4="-0.015"/></filter>
<clipPath id="thc0"><rect x="69.3" y="147.3" width="125.2" height="124.4"/></clipPath>
<filter id="thf1" filterUnits="userSpaceOnUse" x="204.1" y="139.3" width="141.0" height="141.0" color-interpolation-filters="sRGB"><feTurbulence type="fractalNoise" baseFrequency="0.09" numOctaves="2" seed="48" result="d"/><feDisplacementMap in="SourceGraphic" in2="d" scale="15" xChannelSelector="R" yChannelSelector="G" result="s"/><feGaussianBlur in="s" stdDeviation="1.15" result="b"/><feTurbulence type="fractalNoise" baseFrequency="0.16" numOctaves="3" seed="8" result="t"/><feColorMatrix in="t" type="matrix" values="1.6 0 0 0 -0.3  1.6 0 0 0 -0.3  1.6 0 0 0 -0.3  0 0 0 0 1" result="n"/><feComposite in="b" in2="n" operator="arithmetic" k1="0.5" k2="0.75" k3="0.03" k4="-0.015"/></filter>
<clipPath id="thc1"><rect x="212.1" y="147.3" width="125.2" height="124.4"/></clipPath>
<filter id="thf2" filterUnits="userSpaceOnUse" x="346.4" y="139.3" width="141.0" height="141.0" color-interpolation-filters="sRGB"><feTurbulence type="fractalNoise" baseFrequency="0.09" numOctaves="2" seed="51" result="d"/><feDisplacementMap in="SourceGraphic" in2="d" scale="15" xChannelSelector="R" yChannelSelector="G" result="s"/><feGaussianBlur in="s" stdDeviation="1.15" result="b"/><feTurbulence type="fractalNoise" baseFrequency="0.16" numOctaves="3" seed="11" result="t"/><feColorMatrix in="t" type="matrix" values="1.6 0 0 0 -0.3  1.6 0 0 0 -0.3  1.6 0 0 0 -0.3  0 0 0 0 1" result="n"/><feComposite in="b" in2="n" operator="arithmetic" k1="0.5" k2="0.75" k3="0.03" k4="-0.015"/></filter>
<clipPath id="thc2"><rect x="354.4" y="147.3" width="125.2" height="124.4"/></clipPath>
<filter id="thf3" filterUnits="userSpaceOnUse" x="488.4" y="139.3" width="141.0" height="141.0" color-interpolation-filters="sRGB"><feTurbulence type="fractalNoise" baseFrequency="0.09" numOctaves="2" seed="54" result="d"/><feDisplacementMap in="SourceGraphic" in2="d" scale="15" xChannelSelector="R" yChannelSelector="G" result="s"/><feGaussianBlur in="s" stdDeviation="1.15" result="b"/><feTurbulence type="fractalNoise" baseFrequency="0.16" numOctaves="3" seed="14" result="t"/><feColorMatrix in="t" type="matrix" values="1.6 0 0 0 -0.3  1.6 0 0 0 -0.3  1.6 0 0 0 -0.3  0 0 0 0 1" result="n"/><feComposite in="b" in2="n" operator="arithmetic" k1="0.5" k2="0.75" k3="0.03" k4="-0.015"/></filter>
<clipPath id="thc3"><rect x="496.4" y="147.3" width="125.2" height="124.4"/></clipPath>
<filter id="thf4" filterUnits="userSpaceOnUse" x="631.2" y="139.3" width="141.0" height="141.0" color-interpolation-filters="sRGB"><feTurbulence type="fractalNoise" baseFrequency="0.09" numOctaves="2" seed="57" result="d"/><feDisplacementMap in="SourceGraphic" in2="d" scale="15" xChannelSelector="R" yChannelSelector="G" result="s"/><feGaussianBlur in="s" stdDeviation="1.15" result="b"/><feTurbulence type="fractalNoise" baseFrequency="0.16" numOctaves="3" seed="17" result="t"/><feColorMatrix in="t" type="matrix" values="1.6 0 0 0 -0.3  1.6 0 0 0 -0.3  1.6 0 0 0 -0.3  0 0 0 0 1" result="n"/><feComposite in="b" in2="n" operator="arithmetic" k1="0.5" k2="0.75" k3="0.03" k4="-0.015"/></filter>
<clipPath id="thc4"><rect x="639.2" y="147.3" width="125.2" height="124.4"/></clipPath>
</defs>
<text x="584.10" y="25.50" font-size="20.8" text-anchor="middle" fill="#000">Estimated Max Wind Speed for 02W at 20250624 0730UTC</text>
<text x="131.90" y="102.60" font-size="15.1" text-anchor="middle" fill="#000">IR from</text>
<text x="131.90" y="120.10" font-size="15.1" text-anchor="middle" fill="#000">20250624</text>
<text x="131.90" y="137.50" font-size="15.1" text-anchor="middle" fill="#000">at 0730UTC</text>
<g clip-path="url(#thc0)"><g filter="url(#thf0)"><rect x="59.3" y="137.3" width="145.2" height="145.2" fill="rgb(42,42,42)"/><g transform="translate(69.3 147.3) scale(1.25)"><ellipse cx="15" cy="12" rx="30" ry="18" fill="rgb(61,61,61)" transform="rotate(-30 15 12)"/><path d="M5,40 C20,30 35,18 50,5" fill="none" stroke="rgb(70,70,70)" stroke-width="10" stroke-linecap="round" stroke-linejoin="round"/><path d="M40,18 C50,12 58,8 68,3" fill="none" stroke="rgb(94,94,94)" stroke-width="5" stroke-linecap="round" stroke-linejoin="round"/><path d="M8,30 C15,24 22,18 28,10" fill="none" stroke="rgb(82,82,82)" stroke-width="4" stroke-linecap="round" stroke-linejoin="round"/><path d="M-5,78 C20,82 45,78 62,66" fill="none" stroke="rgb(82,82,82)" stroke-width="20" stroke-linecap="round" stroke-linejoin="round"/><path d="M-5,86 C15,88 35,84 50,76" fill="none" stroke="rgb(94,94,94)" stroke-width="8" stroke-linecap="round" stroke-linejoin="round"/><ellipse cx="50" cy="53" rx="22" ry="20" fill="rgb(82,82,82)"/><ellipse cx="51" cy="53" rx="15" ry="14" fill="rgb(114,114,114)"/><ellipse cx="53" cy="52" rx="9" ry="9" fill="rgb(178,178,178)"/><ellipse cx="55" cy="50" rx="4" ry="5" fill="rgb(209,209,209)"/><path d="M72,38 C80,42 84,52 84,62" fill="none" stroke="rgb(94,94,94)" stroke-width="6" stroke-linecap="round" stroke-linejoin="round"/><path d="M62,30 C70,32 76,36 80,42" fill="none" stroke="rgb(86,86,86)" stroke-width="4" stroke-linecap="round" stroke-linejoin="round"/><ellipse cx="82" cy="80" rx="6" ry="8" fill="rgb(86,86,86)"/><ellipse cx="30" cy="95" rx="20" ry="5" fill="rgb(78,78,78)"/><ellipse cx="75" cy="95" rx="14" ry="4" fill="rgb(74,74,74)"/><ellipse cx="92" cy="20" rx="4" ry="3" fill="rgb(90,90,90)"/></g></g></g>
<rect x="69.30" y="147.30" width="125.20" height="124.40" fill="none" stroke="#000" stroke-width="1.1"/>
<text x="274.70" y="102.60" font-size="15.1" text-anchor="middle" fill="#000">IR from</text>
<text x="274.70" y="120.10" font-size="15.1" text-anchor="middle" fill="#000">20250624</text>
<text x="274.70" y="137.50" font-size="15.1" text-anchor="middle" fill="#000">at 0430UTC</text>
<g clip-path="url(#thc1)"><g filter="url(#thf1)"><rect x="202.1" y="137.3" width="145.2" height="145.2" fill="rgb(41,41,41)"/><g transform="translate(212.1 147.3) scale(1.25)"><path d="M35,-5 L105,-5 L105,12 C80,10 60,8 35,-5Z" fill="rgb(69,69,69)"/><path d="M3,38 C15,28 30,14 50,2" fill="none" stroke="rgb(82,82,82)" stroke-width="12" stroke-linecap="round" stroke-linejoin="round"/><path d="M6,34 C14,27 20,20 26,14" fill="none" stroke="rgb(114,114,114)" stroke-width="4" stroke-linecap="round" stroke-linejoin="round"/><path d="M30,16 C40,9 50,5 60,1" fill="none" stroke="rgb(110,110,110)" stroke-width="4" stroke-linecap="round" stroke-linejoin="round"/><ellipse cx="46" cy="55" rx="26" ry="20" fill="rgb(78,78,78)" transform="rotate(-25 46 55)"/><path d="M2,78 C20,74 38,66 50,54" fill="none" stroke="rgb(94,94,94)" stroke-width="16" stroke-linecap="round" stroke-linejoin="round"/><path d="M10,72 C25,68 38,62 48,52" fill="none" stroke="rgb(120,120,120)" stroke-width="8" stroke-linecap="round" stroke-linejoin="round"/><ellipse cx="51" cy="48" rx="11" ry="10" fill="rgb(168,168,168)"/><ellipse cx="52" cy="46" rx="8" ry="7" fill="rgb(217,217,217)"/><path d="M62,40 C70,44 76,52 78,62" fill="none" stroke="rgb(82,82,82)" stroke-width="6" stroke-linecap="round" stroke-linejoin="round"/><path d="M56,62 C60,70 62,78 60,88" fill="none" stroke="rgb(69,69,69)" stroke-width="8" stroke-linecap="round" stroke-linejoin="round"/><ellipse cx="88" cy="88" rx="6" ry="5" fill="rgb(90,90,90)"/><ellipse cx="30" cy="50" rx="3" ry="3" fill="rgb(110,110,110)"/></g></g></g>
<rect x="212.10" y="147.30" width="125.20" height="124.40" fill="none" stroke="#000" stroke-width="1.1"/>
<text x="417.00" y="102.60" font-size="15.1" text-anchor="middle" fill="#000">IR from</text>
<text x="417.00" y="120.10" font-size="15.1" text-anchor="middle" fill="#000">20250624</text>
<text x="417.00" y="137.50" font-size="15.1" text-anchor="middle" fill="#000">at 0130UTC</text>
<g clip-path="url(#thc2)"><g filter="url(#thf2)"><rect x="344.4" y="137.3" width="145.2" height="145.2" fill="rgb(40,40,40)"/><g transform="translate(354.4 147.3) scale(1.25)"><path d="M25,-5 L105,-5 L105,35 C85,25 60,15 25,-5Z" fill="rgb(69,69,69)"/><ellipse cx="8" cy="10" rx="12" ry="16" fill="rgb(85,85,85)" transform="rotate(-20 8 10)"/><path d="M2,22 C8,14 14,8 20,2" fill="none" stroke="rgb(110,110,110)" stroke-width="5" stroke-linecap="round" stroke-linejoin="round"/><path d="M2,62 C12,52 24,44 36,38" fill="none" stroke="rgb(102,102,102)" stroke-width="9" stroke-linecap="round" stroke-linejoin="round"/><ellipse cx="42" cy="56" rx="26" ry="20" fill="rgb(90,90,90)" transform="rotate(-10 42 56)"/><ellipse cx="42" cy="60" rx="18" ry="12" fill="rgb(189,189,189)" transform="rotate(-15 42 60)"/><ellipse cx="38" cy="64" rx="12" ry="8" fill="rgb(209,209,209)" transform="rotate(-15 38 64)"/><ellipse cx="47" cy="42" rx="9" ry="8" fill="rgb(189,189,189)"/><ellipse cx="55" cy="52" rx="9" ry="10" fill="rgb(168,168,168)"/><path d="M60,46 C66,50 70,56 70,62" fill="none" stroke="rgb(110,110,110)" stroke-width="5" stroke-linecap="round" stroke-linejoin="round"/><path d="M78,72 C82,78 84,84 82,92" fill="none" stroke="rgb(94,94,94)" stroke-width="5" stroke-linecap="round" stroke-linejoin="round"/><ellipse cx="30" cy="80" rx="16" ry="6" fill="rgb(69,69,69)" transform="rotate(-10 30 80)"/><ellipse cx="96" cy="25" rx="4" ry="5" fill="rgb(110,110,110)"/></g></g></g>
<rect x="354.40" y="147.30" width="125.20" height="124.40" fill="none" stroke="#000" stroke-width="1.1"/>
<text x="559.00" y="102.60" font-size="15.1" text-anchor="middle" fill="#000">IR from</text>
<text x="559.00" y="120.10" font-size="15.1" text-anchor="middle" fill="#000">20250623</text>
<text x="559.00" y="137.50" font-size="15.1" text-anchor="middle" fill="#000">at 2230UTC</text>
<g clip-path="url(#thc3)"><g filter="url(#thf3)"><rect x="486.4" y="137.3" width="145.2" height="145.2" fill="rgb(36,36,36)"/><g transform="translate(496.4 147.3) scale(1.25)"><path d="M40,-5 L105,-5 L105,25 C85,18 65,10 40,-5Z" fill="rgb(66,66,66)"/><ellipse cx="10" cy="10" rx="12" ry="14" fill="rgb(81,81,81)" transform="rotate(-20 10 10)"/><path d="M3,20 C6,12 10,6 14,1" fill="none" stroke="rgb(109,109,109)" stroke-width="3" stroke-linecap="round" stroke-linejoin="round"/><path d="M10,22 C14,14 18,8 22,2" fill="none" stroke="rgb(101,101,101)" stroke-width="3" stroke-linecap="round" stroke-linejoin="round"/><path d="M2,52 C15,42 30,30 52,14" fill="none" stroke="rgb(77,77,77)" stroke-width="8" stroke-linecap="round" stroke-linejoin="round"/><path d="M8,52 C16,44 22,38 30,32" fill="none" stroke="rgb(109,109,109)" stroke-width="3" stroke-linecap="round" stroke-linejoin="round"/><ellipse cx="43" cy="53" rx="22" ry="24" fill="rgb(77,77,77)"/><ellipse cx="47" cy="55" rx="11" ry="14" fill="rgb(219,219,219)" transform="rotate(10 47 55)"/><ellipse cx="45" cy="48" rx="8" ry="8" fill="rgb(204,204,204)"/><ellipse cx="57" cy="33" rx="5" ry="5" fill="rgb(204,204,204)"/><ellipse cx="50" cy="36" rx="5" ry="4" fill="rgb(153,153,153)"/><ellipse cx="33" cy="61" rx="3.5" ry="3.5" fill="rgb(199,199,199)"/><ellipse cx="50" cy="67" rx="4" ry="3" fill="rgb(204,204,204)"/><ellipse cx="40" cy="66" rx="5" ry="4" fill="rgb(178,178,178)"/><ellipse cx="56" cy="88" rx="2.5" ry="2.5" fill="rgb(153,153,153)"/><ellipse cx="80" cy="88" rx="2.5" ry="3" fill="rgb(109,109,109)"/><ellipse cx="92" cy="45" rx="3" ry="6" fill="rgb(77,77,77)"/><ellipse cx="78" cy="50" rx="8" ry="14" fill="rgb(56,56,56)"/></g></g></g>
<rect x="496.40" y="147.30" width="125.20" height="124.40" fill="none" stroke="#000" stroke-width="1.1"/>
<text x="701.80" y="102.60" font-size="15.1" text-anchor="middle" fill="#000">IR from</text>
<text x="701.80" y="120.10" font-size="15.1" text-anchor="middle" fill="#000">20250623</text>
<text x="701.80" y="137.50" font-size="15.1" text-anchor="middle" fill="#000">at 1930UTC</text>
<g clip-path="url(#thc4)"><g filter="url(#thf4)"><rect x="629.2" y="137.3" width="145.2" height="145.2" fill="rgb(34,34,34)"/><g transform="translate(639.2 147.3) scale(1.25)"><path d="M50,-5 L105,-5 L105,35 C90,22 72,12 50,-5Z" fill="rgb(76,76,76)"/><path d="M5,40 C15,25 30,12 50,5" fill="none" stroke="rgb(62,62,62)" stroke-width="10" stroke-linecap="round" stroke-linejoin="round"/><path d="M15,45 C25,30 40,20 55,15" fill="none" stroke="rgb(72,72,72)" stroke-width="5" stroke-linecap="round" stroke-linejoin="round"/><ellipse cx="50" cy="46" rx="27" ry="22" fill="rgb(80,80,80)" transform="rotate(-10 50 46)"/><ellipse cx="56" cy="35" rx="15" ry="8" fill="rgb(168,168,168)" transform="rotate(-10 56 35)"/><ellipse cx="46" cy="42" rx="8" ry="6" fill="rgb(153,153,153)"/><ellipse cx="62" cy="30" rx="8" ry="5" fill="rgb(191,191,191)"/><ellipse cx="48.5" cy="49.5" rx="4.5" ry="4.5" fill="rgb(235,235,235)"/><ellipse cx="36" cy="58" rx="2.8" ry="2.8" fill="rgb(224,224,224)"/><ellipse cx="50" cy="40" rx="4" ry="3" fill="rgb(204,204,204)"/><path d="M30,62 C45,72 62,70 74,56" fill="none" stroke="rgb(76,76,76)" stroke-width="4" stroke-linecap="round" stroke-linejoin="round"/><path d="M20,52 C24,60 30,66 38,70" fill="none" stroke="rgb(68,68,68)" stroke-width="3" stroke-linecap="round" stroke-linejoin="round"/><path d="M78,40 C80,50 78,58 72,66" fill="none" stroke="rgb(68,68,68)" stroke-width="4" stroke-linecap="round" stroke-linejoin="round"/><ellipse cx="97" cy="75" rx="6" ry="25" fill="rgb(93,93,93)"/><ellipse cx="90" cy="60" rx="5" ry="8" fill="rgb(88,88,88)"/><ellipse cx="60" cy="58" rx="6" ry="2" fill="rgb(109,109,109)" transform="rotate(-20 60 58)"/></g></g></g>
<rect x="639.20" y="147.30" width="125.20" height="124.40" fill="none" stroke="#000" stroke-width="1.1"/>
<rect x="801.95" y="346.10" width="4.31" height="13.30" fill="#8b008b" stroke="none" stroke-width="1"/>
<rect x="805.96" y="339.10" width="3.24" height="20.30" fill="#8b008b" stroke="none" stroke-width="1"/>
<rect x="808.90" y="308.20" width="3.40" height="51.20" fill="#8b008b" stroke="none" stroke-width="1"/>
<rect x="812.00" y="263.10" width="3.30" height="96.30" fill="#8b008b" stroke="none" stroke-width="1"/>
<rect x="815.00" y="195.10" width="3.40" height="164.30" fill="#8b008b" stroke="none" stroke-width="1"/>
<rect x="818.10" y="112.00" width="2.50" height="247.40" fill="#8b008b" stroke="none" stroke-width="1"/>
<rect x="820.30" y="110.80" width="3.00" height="248.60" fill="#8b008b" stroke="none" stroke-width="1"/>
<rect x="823.00" y="106.10" width="2.20" height="253.30" fill="#8b008b" stroke="none" stroke-width="1"/>
<rect x="824.90" y="73.00" width="2.60" height="286.40" fill="#8b008b" stroke="none" stroke-width="1"/>
<rect x="827.20" y="157.60" width="2.10" height="201.80" fill="#8b008b" stroke="none" stroke-width="1"/>
<rect x="829.00" y="159.00" width="3.20" height="200.40" fill="#8b008b" stroke="none" stroke-width="1"/>
<rect x="831.90" y="237.20" width="2.40" height="122.20" fill="#8b008b" stroke="none" stroke-width="1"/>
<rect x="834.00" y="241.30" width="3.10" height="118.10" fill="#8b008b" stroke="none" stroke-width="1"/>
<rect x="836.80" y="300.20" width="4.30" height="59.20" fill="#8b008b" stroke="none" stroke-width="1"/>
<rect x="840.80" y="328.80" width="6.40" height="30.60" fill="#8b008b" stroke="none" stroke-width="1"/>
<rect x="846.90" y="348.10" width="5.30" height="11.30" fill="#8b008b" stroke="none" stroke-width="1"/>
<line x1="824.90" y1="59.50" x2="824.90" y2="359.40" stroke="#000" stroke-width="2.1"/>
<line x1="835.90" y1="359.40" x2="835.90" y2="59.50" stroke="#a9a9a9" stroke-width="5.55" stroke-dasharray="5.55 9.17"/>
<rect x="784.40" y="59.50" width="300.00" height="299.90" fill="none" stroke="#000" stroke-width="1.1"/>
<text x="934.40" y="50.00" font-size="15.2" text-anchor="middle" fill="#000">Estimated MSW, knots</text>
<line x1="819.10" y1="359.40" x2="819.10" y2="364.20" stroke="#000" stroke-width="1.1"/>
<text x="819.10" y="381.00" font-size="13.5" text-anchor="middle" fill="#000">25</text>
<line x1="863.40" y1="359.40" x2="863.40" y2="364.20" stroke="#000" stroke-width="1.1"/>
<text x="863.40" y="381.00" font-size="13.5" text-anchor="middle" fill="#000">50</text>
<line x1="907.70" y1="359.40" x2="907.70" y2="364.20" stroke="#000" stroke-width="1.1"/>
<text x="907.70" y="381.00" font-size="13.5" text-anchor="middle" fill="#000">75</text>
<line x1="952.00" y1="359.40" x2="952.00" y2="364.20" stroke="#000" stroke-width="1.1"/>
<text x="952.00" y="381.00" font-size="13.5" text-anchor="middle" fill="#000">100</text>
<line x1="996.30" y1="359.40" x2="996.30" y2="364.20" stroke="#000" stroke-width="1.1"/>
<text x="996.30" y="381.00" font-size="13.5" text-anchor="middle" fill="#000">125</text>
<line x1="1040.60" y1="359.40" x2="1040.60" y2="364.20" stroke="#000" stroke-width="1.1"/>
<text x="1040.60" y="381.00" font-size="13.5" text-anchor="middle" fill="#000">150</text>
<line x1="784.40" y1="359.40" x2="789.70" y2="359.40" stroke="#000" stroke-width="1.1"/>
<line x1="1084.40" y1="359.40" x2="1079.10" y2="359.40" stroke="#000" stroke-width="1.1"/>
<text x="1090.00" y="365.80" font-size="13.5" text-anchor="start" fill="#000">0.0</text>
<line x1="784.40" y1="302.26" x2="789.70" y2="302.26" stroke="#000" stroke-width="1.1"/>
<line x1="1084.40" y1="302.26" x2="1079.10" y2="302.26" stroke="#000" stroke-width="1.1"/>
<text x="1090.00" y="308.66" font-size="13.5" text-anchor="start" fill="#000">0.2</text>
<line x1="784.40" y1="245.12" x2="789.70" y2="245.12" stroke="#000" stroke-width="1.1"/>
<line x1="1084.40" y1="245.12" x2="1079.10" y2="245.12" stroke="#000" stroke-width="1.1"/>
<text x="1090.00" y="251.52" font-size="13.5" text-anchor="start" fill="#000">0.4</text>
<line x1="784.40" y1="187.98" x2="789.70" y2="187.98" stroke="#000" stroke-width="1.1"/>
<line x1="1084.40" y1="187.98" x2="1079.10" y2="187.98" stroke="#000" stroke-width="1.1"/>
<text x="1090.00" y="194.38" font-size="13.5" text-anchor="start" fill="#000">0.6</text>
<line x1="784.40" y1="130.84" x2="789.70" y2="130.84" stroke="#000" stroke-width="1.1"/>
<line x1="1084.40" y1="130.84" x2="1079.10" y2="130.84" stroke="#000" stroke-width="1.1"/>
<text x="1090.00" y="137.24" font-size="13.5" text-anchor="start" fill="#000">0.8</text>
<line x1="784.40" y1="73.70" x2="789.70" y2="73.70" stroke="#000" stroke-width="1.1"/>
<line x1="1084.40" y1="73.70" x2="1079.10" y2="73.70" stroke="#000" stroke-width="1.1"/>
<text x="1090.00" y="80.10" font-size="13.5" text-anchor="start" fill="#000">1.0</text>
<text x="1126.40" y="210.30" font-size="13.8" text-anchor="middle" fill="#000" transform="rotate(-90 1126.40 210.30)">Relative Prob</text>
<line x1="762.80" y1="396.10" x2="793.90" y2="396.10" stroke="#000" stroke-width="2.1"/>
<text x="806.50" y="401.70" font-size="15.2" text-anchor="start" fill="#000">D-PRINT average</text>
<line x1="966.80" y1="396.10" x2="997.90" y2="396.10" stroke="#a9a9a9" stroke-width="5.55" stroke-dasharray="5.55 9.17"/>
<text x="1009.60" y="401.70" font-size="15.2" text-anchor="start" fill="#000">JTWC official</text>
<text x="584.10" y="443.00" font-size="19.4" text-anchor="middle" fill="#000">D-PRINT SHAP Values for 2025_02W: updated at 20250624 0730 UTC</text>
<clipPath id="midclip"><rect x="82.4" y="453.4" width="1006.3000000000001" height="349.70000000000005"/></clipPath>
<g clip-path="url(#midclip)" fill="none" stroke-linejoin="round" stroke-linecap="butt">
<line x1="82.40" y1="716.67" x2="1088.70" y2="716.67" stroke="#e6e6e6" stroke-width="6.2"/>
<polyline points="263.5,721.0 290.0,720.6 330.0,720.2 400.0,719.9 500.0,719.6 600.0,719.3 700.0,719.0 800.0,718.8 900.0,718.6 1000.0,718.6 1089.0,718.6" stroke="#3cb44b" stroke-width="2.6"/>
<polyline points="263.5,717.0 400.0,717.0 600.0,716.8 800.0,716.6 1000.0,716.2 1089.0,716.0" stroke="#42e8f5" stroke-width="2.6"/>
<polyline points="263.5,718.2 400.0,718.0 600.0,717.8 800.0,717.6 1000.0,717.3 1089.0,717.2" stroke="#e83ce0" stroke-width="2.6"/>
<polyline points="263.5,714.6 300.0,714.5 340.0,714.2 362.0,714.0 375.0,714.8 420.0,714.7 500.0,714.4 600.0,714.0 700.0,713.8 760.0,714.0 820.0,713.9 840.0,713.2 860.0,713.6 900.0,714.2 1000.0,714.5 1050.0,714.9 1089.0,715.2" stroke="#f58a35" stroke-width="2.6"/>
<polyline points="263.5,774.4 273.8,771.4 281.5,773.9 285.1,774.4 292.8,773.9 303.1,776.0 313.4,776.0 323.6,775.5 328.8,773.4 339.0,773.9 354.4,775.5 365.7,776.5 372.4,775.5 382.7,771.9 390.4,772.4 400.7,775.0 411.0,775.5 421.2,775.5 434.1,777.5 445.9,779.1 454.6,777.0 463.9,774.4 472.6,775.5 482.9,775.0 490.6,776.0 500.8,775.5 518.8,778.0 531.7,777.5 543.5,773.9 562.5,777.0 567.6,773.4 575.3,773.4 585.6,769.8 596.3,768.3 607.6,764.2 619.4,765.7 629.6,768.3 650.2,769.3 659.4,767.3 681.0,770.9 684.1,768.8 691.3,770.9 697.4,769.3 710.8,758.0 720.6,756.0 731.4,758.0 747.8,765.7 760.6,766.7 780.2,758.5 799.2,765.2 806.4,762.1 812.0,765.7 819.7,767.8 830.0,768.3 840.3,758.5 853.1,764.2 865.9,771.4 876.2,771.4 909.6,779.1 918.9,779.1 938.9,766.7 948.1,772.4 959.4,757.5 971.2,754.9 977.9,751.8 985.1,762.1 997.4,768.3 1007.7,757.5 1018.0,767.8 1037.0,760.6 1043.7,764.7 1047.3,772.9 1057.0,777.0 1067.3,773.9 1076.6,761.6 1083.2,768.8 1088.9,778.6" stroke="#e6194b" stroke-width="2.6"/>
<polyline points="105.1,792.2 225.6,781.2 344.6,781.2 463.6,770.3 582.6,770.3 701.6,759.4 820.5,770.3 939.5,770.3 1058.5,770.3 1088.2,771.4" stroke="#000" stroke-width="2.6"/>
</g>
<rect x="82.40" y="453.40" width="1006.30" height="349.70" fill="none" stroke="#000" stroke-width="1.25"/>
<line x1="77.40" y1="803.10" x2="82.40" y2="803.10" stroke="#000" stroke-width="1.25"/>
<text x="73.00" y="809.80" font-size="15.4" text-anchor="end" fill="#000">-40</text>
<line x1="77.90" y1="781.24" x2="82.40" y2="781.24" stroke="#000" stroke-width="1.0"/>
<line x1="77.40" y1="759.39" x2="82.40" y2="759.39" stroke="#000" stroke-width="1.25"/>
<text x="73.00" y="766.09" font-size="15.4" text-anchor="end" fill="#000">-20</text>
<line x1="77.90" y1="737.53" x2="82.40" y2="737.53" stroke="#000" stroke-width="1.0"/>
<line x1="77.40" y1="715.67" x2="82.40" y2="715.67" stroke="#000" stroke-width="1.25"/>
<text x="73.00" y="722.38" font-size="15.4" text-anchor="end" fill="#000">0</text>
<line x1="77.90" y1="693.82" x2="82.40" y2="693.82" stroke="#000" stroke-width="1.0"/>
<line x1="77.40" y1="671.96" x2="82.40" y2="671.96" stroke="#000" stroke-width="1.25"/>
<text x="73.00" y="678.66" font-size="15.4" text-anchor="end" fill="#000">20</text>
<line x1="77.90" y1="650.11" x2="82.40" y2="650.11" stroke="#000" stroke-width="1.0"/>
<line x1="77.40" y1="628.25" x2="82.40" y2="628.25" stroke="#000" stroke-width="1.25"/>
<text x="73.00" y="634.95" font-size="15.4" text-anchor="end" fill="#000">40</text>
<line x1="77.90" y1="606.39" x2="82.40" y2="606.39" stroke="#000" stroke-width="1.0"/>
<line x1="77.40" y1="584.54" x2="82.40" y2="584.54" stroke="#000" stroke-width="1.25"/>
<text x="73.00" y="591.24" font-size="15.4" text-anchor="end" fill="#000">60</text>
<line x1="77.90" y1="562.68" x2="82.40" y2="562.68" stroke="#000" stroke-width="1.0"/>
<line x1="77.40" y1="540.83" x2="82.40" y2="540.83" stroke="#000" stroke-width="1.25"/>
<text x="73.00" y="547.53" font-size="15.4" text-anchor="end" fill="#000">80</text>
<line x1="77.90" y1="518.97" x2="82.40" y2="518.97" stroke="#000" stroke-width="1.0"/>
<line x1="77.40" y1="497.11" x2="82.40" y2="497.11" stroke="#000" stroke-width="1.25"/>
<text x="73.00" y="503.81" font-size="15.4" text-anchor="end" fill="#000">100</text>
<line x1="77.90" y1="475.26" x2="82.40" y2="475.26" stroke="#000" stroke-width="1.0"/>
<line x1="77.40" y1="453.40" x2="82.40" y2="453.40" stroke="#000" stroke-width="1.25"/>
<text x="73.00" y="460.10" font-size="15.4" text-anchor="end" fill="#000">120</text>
<line x1="1088.70" y1="803.10" x2="1093.70" y2="803.10" stroke="#000" stroke-width="1.25"/>
<text x="1098.00" y="809.80" font-size="15.4" text-anchor="start" fill="#000">20</text>
<line x1="1088.70" y1="781.24" x2="1093.20" y2="781.24" stroke="#000" stroke-width="1.0"/>
<line x1="1088.70" y1="759.39" x2="1093.70" y2="759.39" stroke="#000" stroke-width="1.25"/>
<text x="1098.00" y="766.09" font-size="15.4" text-anchor="start" fill="#000">40</text>
<line x1="1088.70" y1="737.53" x2="1093.20" y2="737.53" stroke="#000" stroke-width="1.0"/>
<line x1="1088.70" y1="715.67" x2="1093.70" y2="715.67" stroke="#000" stroke-width="1.25"/>
<text x="1098.00" y="722.38" font-size="15.4" text-anchor="start" fill="#000">60</text>
<line x1="1088.70" y1="693.82" x2="1093.20" y2="693.82" stroke="#000" stroke-width="1.0"/>
<line x1="1088.70" y1="671.96" x2="1093.70" y2="671.96" stroke="#000" stroke-width="1.25"/>
<text x="1098.00" y="678.66" font-size="15.4" text-anchor="start" fill="#000">80</text>
<line x1="1088.70" y1="650.11" x2="1093.20" y2="650.11" stroke="#000" stroke-width="1.0"/>
<line x1="1088.70" y1="628.25" x2="1093.70" y2="628.25" stroke="#000" stroke-width="1.25"/>
<text x="1098.00" y="634.95" font-size="15.4" text-anchor="start" fill="#000">100</text>
<line x1="1088.70" y1="606.39" x2="1093.20" y2="606.39" stroke="#000" stroke-width="1.0"/>
<line x1="1088.70" y1="584.54" x2="1093.70" y2="584.54" stroke="#000" stroke-width="1.25"/>
<text x="1098.00" y="591.24" font-size="15.4" text-anchor="start" fill="#000">120</text>
<line x1="1088.70" y1="562.68" x2="1093.20" y2="562.68" stroke="#000" stroke-width="1.0"/>
<line x1="1088.70" y1="540.83" x2="1093.70" y2="540.83" stroke="#000" stroke-width="1.25"/>
<text x="1098.00" y="547.53" font-size="15.4" text-anchor="start" fill="#000">140</text>
<line x1="1088.70" y1="518.97" x2="1093.20" y2="518.97" stroke="#000" stroke-width="1.0"/>
<line x1="1088.70" y1="497.11" x2="1093.70" y2="497.11" stroke="#000" stroke-width="1.25"/>
<text x="1098.00" y="503.81" font-size="15.4" text-anchor="start" fill="#000">160</text>
<line x1="1088.70" y1="475.26" x2="1093.20" y2="475.26" stroke="#000" stroke-width="1.0"/>
<line x1="1088.70" y1="453.40" x2="1093.70" y2="453.40" stroke="#000" stroke-width="1.25"/>
<text x="1098.00" y="460.10" font-size="15.4" text-anchor="start" fill="#000">180</text>
<line x1="106.66" y1="803.10" x2="106.66" y2="806.30" stroke="#000" stroke-width="1.0"/>
<line x1="225.64" y1="803.10" x2="225.64" y2="806.30" stroke="#000" stroke-width="1.0"/>
<line x1="344.62" y1="803.10" x2="344.62" y2="806.30" stroke="#000" stroke-width="1.0"/>
<line x1="582.58" y1="803.10" x2="582.58" y2="806.30" stroke="#000" stroke-width="1.0"/>
<line x1="701.56" y1="803.10" x2="701.56" y2="806.30" stroke="#000" stroke-width="1.0"/>
<line x1="820.54" y1="803.10" x2="820.54" y2="806.30" stroke="#000" stroke-width="1.0"/>
<line x1="1058.50" y1="803.10" x2="1058.50" y2="806.30" stroke="#000" stroke-width="1.0"/>
<line x1="463.60" y1="803.10" x2="463.60" y2="808.10" stroke="#000" stroke-width="1.25"/>
<text x="463.00" y="826.00" font-size="15.8" text-anchor="middle" fill="#000">06/23</text>
<line x1="939.52" y1="803.10" x2="939.52" y2="808.10" stroke="#000" stroke-width="1.25"/>
<text x="938.92" y="826.00" font-size="15.8" text-anchor="middle" fill="#000">06/24</text>
<text x="584.50" y="846.50" font-size="15.4" text-anchor="middle" fill="#000">2025</text>
<text x="33.50" y="629.00" font-size="15.9" text-anchor="middle" fill="#000" transform="rotate(-90 33.50 629.00)">SHAP Value [kts]</text>
<text x="1143.80" y="629.90" font-size="16.05" text-anchor="middle" fill="#000" transform="rotate(-90 1143.80 629.90)">Working Best Track TC Intensity [kt]</text>
<text x="211.00" y="865.80" font-size="15.2" text-anchor="start" fill="#000">SHAP values:</text>
<line x1="341.50" y1="859.50" x2="374.00" y2="859.50" stroke="#e6194b" stroke-width="3.0"/>
<text x="385.50" y="865.80" font-size="15.2" text-anchor="start" fill="#000">IR</text>
<line x1="430.00" y1="859.50" x2="462.50" y2="859.50" stroke="#42e8f5" stroke-width="3.0"/>
<text x="474.00" y="865.80" font-size="15.2" text-anchor="start" fill="#000">History</text>
<line x1="558.00" y1="859.50" x2="590.50" y2="859.50" stroke="#3cb44b" stroke-width="3.0"/>
<text x="602.00" y="865.80" font-size="15.2" text-anchor="start" fill="#000">Position</text>
<line x1="690.50" y1="859.50" x2="723.00" y2="859.50" stroke="#e83ce0" stroke-width="3.0"/>
<text x="735.00" y="865.80" font-size="15.2" text-anchor="start" fill="#000">Environment</text>
<line x1="861.50" y1="859.50" x2="894.00" y2="859.50" stroke="#f58a35" stroke-width="3.0"/>
<text x="906.00" y="865.80" font-size="15.2" text-anchor="start" fill="#000">GFS Thermo</text>
<line x1="516.50" y1="881.60" x2="549.00" y2="881.60" stroke="#000" stroke-width="3.0"/>
<text x="560.00" y="887.80" font-size="15.2" text-anchor="start" fill="#000">TC Intensity</text>
<text x="333.90" y="919.60" font-size="13.3" text-anchor="middle" fill="#111">Shap values for 2025_02W at 20250624 0730UTC</text>
<rect x="68.10" y="1101.38" width="400.00" height="103.79" fill="#f5f5f5" stroke="none" stroke-width="1"/>
<rect x="68.10" y="1378.16" width="400.00" height="276.77" fill="#f5f5f5" stroke="none" stroke-width="1"/>
<line x1="68.10" y1="963.00" x2="468.10" y2="963.00" stroke="#e9e9e9" stroke-width="0.8"/>
<line x1="68.10" y1="997.59" x2="468.10" y2="997.59" stroke="#e9e9e9" stroke-width="0.8"/>
<line x1="68.10" y1="1032.19" x2="468.10" y2="1032.19" stroke="#e9e9e9" stroke-width="0.8"/>
<line x1="68.10" y1="1066.79" x2="468.10" y2="1066.79" stroke="#e9e9e9" stroke-width="0.8"/>
<line x1="68.10" y1="1101.38" x2="468.10" y2="1101.38" stroke="#e9e9e9" stroke-width="0.8"/>
<line x1="68.10" y1="1135.98" x2="468.10" y2="1135.98" stroke="#e9e9e9" stroke-width="0.8"/>
<line x1="68.10" y1="1170.58" x2="468.10" y2="1170.58" stroke="#e9e9e9" stroke-width="0.8"/>
<line x1="68.10" y1="1205.17" x2="468.10" y2="1205.17" stroke="#e9e9e9" stroke-width="0.8"/>
<line x1="68.10" y1="1239.77" x2="468.10" y2="1239.77" stroke="#e9e9e9" stroke-width="0.8"/>
<line x1="68.10" y1="1274.37" x2="468.10" y2="1274.37" stroke="#e9e9e9" stroke-width="0.8"/>
<line x1="68.10" y1="1308.97" x2="468.10" y2="1308.97" stroke="#e9e9e9" stroke-width="0.8"/>
<line x1="68.10" y1="1343.56" x2="468.10" y2="1343.56" stroke="#e9e9e9" stroke-width="0.8"/>
<line x1="68.10" y1="1378.16" x2="468.10" y2="1378.16" stroke="#e9e9e9" stroke-width="0.8"/>
<line x1="68.10" y1="1412.76" x2="468.10" y2="1412.76" stroke="#e9e9e9" stroke-width="0.8"/>
<line x1="68.10" y1="1447.35" x2="468.10" y2="1447.35" stroke="#e9e9e9" stroke-width="0.8"/>
<line x1="68.10" y1="1481.95" x2="468.10" y2="1481.95" stroke="#e9e9e9" stroke-width="0.8"/>
<line x1="68.10" y1="1516.55" x2="468.10" y2="1516.55" stroke="#e9e9e9" stroke-width="0.8"/>
<line x1="68.10" y1="1551.14" x2="468.10" y2="1551.14" stroke="#e9e9e9" stroke-width="0.8"/>
<line x1="68.10" y1="1585.74" x2="468.10" y2="1585.74" stroke="#e9e9e9" stroke-width="0.8"/>
<line x1="68.10" y1="1620.34" x2="468.10" y2="1620.34" stroke="#e9e9e9" stroke-width="0.8"/>
<line x1="68.10" y1="1654.93" x2="468.10" y2="1654.93" stroke="#e9e9e9" stroke-width="0.8"/>
<line x1="68.10" y1="1689.53" x2="468.10" y2="1689.53" stroke="#e9e9e9" stroke-width="0.8"/>
<line x1="68.10" y1="1724.13" x2="468.10" y2="1724.13" stroke="#e9e9e9" stroke-width="0.8"/>
<line x1="68.10" y1="1758.72" x2="468.10" y2="1758.72" stroke="#e9e9e9" stroke-width="0.8"/>
<line x1="68.10" y1="1793.32" x2="468.10" y2="1793.32" stroke="#e9e9e9" stroke-width="0.8"/>
<line x1="68.10" y1="1827.92" x2="468.10" y2="1827.92" stroke="#e9e9e9" stroke-width="0.8"/>
<line x1="68.10" y1="1862.52" x2="468.10" y2="1862.52" stroke="#e9e9e9" stroke-width="0.8"/>
<line x1="68.10" y1="1897.11" x2="468.10" y2="1897.11" stroke="#e9e9e9" stroke-width="0.8"/>
<line x1="68.10" y1="1931.71" x2="468.10" y2="1931.71" stroke="#e9e9e9" stroke-width="0.8"/>
<line x1="68.10" y1="1966.31" x2="468.10" y2="1966.31" stroke="#e9e9e9" stroke-width="0.8"/>
<line x1="68.10" y1="2000.90" x2="468.10" y2="2000.90" stroke="#e9e9e9" stroke-width="0.8"/>
<line x1="68.10" y1="945.70" x2="468.10" y2="945.70" stroke="#f0f0f0" stroke-width="0.6" stroke-dasharray="1 2"/>
<line x1="68.10" y1="980.30" x2="468.10" y2="980.30" stroke="#f0f0f0" stroke-width="0.6" stroke-dasharray="1 2"/>
<line x1="68.10" y1="1014.89" x2="468.10" y2="1014.89" stroke="#f0f0f0" stroke-width="0.6" stroke-dasharray="1 2"/>
<line x1="68.10" y1="1049.49" x2="468.10" y2="1049.49" stroke="#f0f0f0" stroke-width="0.6" stroke-dasharray="1 2"/>
<line x1="68.10" y1="1084.09" x2="468.10" y2="1084.09" stroke="#f0f0f0" stroke-width="0.6" stroke-dasharray="1 2"/>
<line x1="68.10" y1="1118.68" x2="468.10" y2="1118.68" stroke="#f0f0f0" stroke-width="0.6" stroke-dasharray="1 2"/>
<line x1="68.10" y1="1153.28" x2="468.10" y2="1153.28" stroke="#f0f0f0" stroke-width="0.6" stroke-dasharray="1 2"/>
<line x1="68.10" y1="1187.88" x2="468.10" y2="1187.88" stroke="#f0f0f0" stroke-width="0.6" stroke-dasharray="1 2"/>
<line x1="68.10" y1="1222.47" x2="468.10" y2="1222.47" stroke="#f0f0f0" stroke-width="0.6" stroke-dasharray="1 2"/>
<line x1="68.10" y1="1257.07" x2="468.10" y2="1257.07" stroke="#f0f0f0" stroke-width="0.6" stroke-dasharray="1 2"/>
<line x1="68.10" y1="1291.67" x2="468.10" y2="1291.67" stroke="#f0f0f0" stroke-width="0.6" stroke-dasharray="1 2"/>
<line x1="68.10" y1="1326.26" x2="468.10" y2="1326.26" stroke="#f0f0f0" stroke-width="0.6" stroke-dasharray="1 2"/>
<line x1="68.10" y1="1360.86" x2="468.10" y2="1360.86" stroke="#f0f0f0" stroke-width="0.6" stroke-dasharray="1 2"/>
<line x1="68.10" y1="1395.46" x2="468.10" y2="1395.46" stroke="#f0f0f0" stroke-width="0.6" stroke-dasharray="1 2"/>
<line x1="68.10" y1="1430.05" x2="468.10" y2="1430.05" stroke="#f0f0f0" stroke-width="0.6" stroke-dasharray="1 2"/>
<line x1="68.10" y1="1464.65" x2="468.10" y2="1464.65" stroke="#f0f0f0" stroke-width="0.6" stroke-dasharray="1 2"/>
<line x1="68.10" y1="1499.25" x2="468.10" y2="1499.25" stroke="#f0f0f0" stroke-width="0.6" stroke-dasharray="1 2"/>
<line x1="68.10" y1="1533.85" x2="468.10" y2="1533.85" stroke="#f0f0f0" stroke-width="0.6" stroke-dasharray="1 2"/>
<line x1="68.10" y1="1568.44" x2="468.10" y2="1568.44" stroke="#f0f0f0" stroke-width="0.6" stroke-dasharray="1 2"/>
<line x1="68.10" y1="1603.04" x2="468.10" y2="1603.04" stroke="#f0f0f0" stroke-width="0.6" stroke-dasharray="1 2"/>
<line x1="68.10" y1="1637.64" x2="468.10" y2="1637.64" stroke="#f0f0f0" stroke-width="0.6" stroke-dasharray="1 2"/>
<line x1="68.10" y1="1672.23" x2="468.10" y2="1672.23" stroke="#f0f0f0" stroke-width="0.6" stroke-dasharray="1 2"/>
<line x1="68.10" y1="1706.83" x2="468.10" y2="1706.83" stroke="#f0f0f0" stroke-width="0.6" stroke-dasharray="1 2"/>
<line x1="68.10" y1="1741.43" x2="468.10" y2="1741.43" stroke="#f0f0f0" stroke-width="0.6" stroke-dasharray="1 2"/>
<line x1="68.10" y1="1776.02" x2="468.10" y2="1776.02" stroke="#f0f0f0" stroke-width="0.6" stroke-dasharray="1 2"/>
<line x1="68.10" y1="1810.62" x2="468.10" y2="1810.62" stroke="#f0f0f0" stroke-width="0.6" stroke-dasharray="1 2"/>
<line x1="68.10" y1="1845.22" x2="468.10" y2="1845.22" stroke="#f0f0f0" stroke-width="0.6" stroke-dasharray="1 2"/>
<line x1="68.10" y1="1879.81" x2="468.10" y2="1879.81" stroke="#f0f0f0" stroke-width="0.6" stroke-dasharray="1 2"/>
<line x1="68.10" y1="1914.41" x2="468.10" y2="1914.41" stroke="#f0f0f0" stroke-width="0.6" stroke-dasharray="1 2"/>
<line x1="68.10" y1="1949.01" x2="468.10" y2="1949.01" stroke="#f0f0f0" stroke-width="0.6" stroke-dasharray="1 2"/>
<line x1="68.10" y1="1983.60" x2="468.10" y2="1983.60" stroke="#f0f0f0" stroke-width="0.6" stroke-dasharray="1 2"/>
<line x1="68.10" y1="2018.20" x2="468.10" y2="2018.20" stroke="#f0f0f0" stroke-width="0.6" stroke-dasharray="1 2"/>
<line x1="405.20" y1="928.40" x2="405.20" y2="2035.50" stroke="#999" stroke-width="1.2"/>
<rect x="68.10" y="928.40" width="400.00" height="1107.10" fill="none" stroke="#777" stroke-width="1.0"/>
<line x1="68.10" y1="1101.38" x2="468.10" y2="1101.38" stroke="#222" stroke-width="1.6"/>
<line x1="68.10" y1="1205.17" x2="468.10" y2="1205.17" stroke="#222" stroke-width="1.6"/>
<line x1="68.10" y1="1378.16" x2="468.10" y2="1378.16" stroke="#222" stroke-width="1.6"/>
<line x1="68.10" y1="1654.93" x2="468.10" y2="1654.93" stroke="#222" stroke-width="1.6"/>
<line x1="65.90" y1="945.70" x2="68.10" y2="945.70" stroke="#333" stroke-width="0.8"/>
<line x1="468.10" y1="945.70" x2="470.30" y2="945.70" stroke="#333" stroke-width="0.8"/>
<text x="62.30" y="948.50" font-size="8.3" text-anchor="end" fill="#151515">0h_old_IR</text>
<text x="472.60" y="944.80" font-size="8.3" text-anchor="start" fill="#151515">0h old IR data</text>
<text x="472.60" y="953.50" font-size="8.3" text-anchor="start" fill="#151515">(128x128 grid points)</text>
<circle cx="176.8" cy="945.7" r="3.6" fill="#0a86f3"/>
<line x1="65.90" y1="980.30" x2="68.10" y2="980.30" stroke="#333" stroke-width="0.8"/>
<line x1="468.10" y1="980.30" x2="470.30" y2="980.30" stroke="#333" stroke-width="0.8"/>
<text x="62.30" y="983.10" font-size="8.3" text-anchor="end" fill="#151515">3h_old_IR</text>
<text x="472.60" y="979.40" font-size="8.3" text-anchor="start" fill="#151515">3h old IR data</text>
<text x="472.60" y="988.10" font-size="8.3" text-anchor="start" fill="#151515">(128x128 grid points)</text>
<circle cx="385.4" cy="980.3" r="3.6" fill="#5a60d6"/>
<line x1="65.90" y1="1014.89" x2="68.10" y2="1014.89" stroke="#333" stroke-width="0.8"/>
<line x1="468.10" y1="1014.89" x2="470.30" y2="1014.89" stroke="#333" stroke-width="0.8"/>
<text x="62.30" y="1017.69" font-size="8.3" text-anchor="end" fill="#151515">6h_old_IR</text>
<text x="472.60" y="1013.99" font-size="8.3" text-anchor="start" fill="#151515">6h old IR data</text>
<text x="472.60" y="1022.69" font-size="8.3" text-anchor="start" fill="#151515">(128x128 grid points)</text>
<circle cx="304.0" cy="1014.9" r="3.6" fill="#2a72e6"/>
<line x1="65.90" y1="1049.49" x2="68.10" y2="1049.49" stroke="#333" stroke-width="0.8"/>
<line x1="468.10" y1="1049.49" x2="470.30" y2="1049.49" stroke="#333" stroke-width="0.8"/>
<text x="62.30" y="1052.29" font-size="8.3" text-anchor="end" fill="#151515">9h_old_IR</text>
<text x="472.60" y="1048.59" font-size="8.3" text-anchor="start" fill="#151515">9h old IR data</text>
<text x="472.60" y="1057.29" font-size="8.3" text-anchor="start" fill="#151515">(128x128 grid points)</text>
<circle cx="312.7" cy="1049.5" r="3.6" fill="#0a86f3"/>
<line x1="65.90" y1="1084.09" x2="68.10" y2="1084.09" stroke="#333" stroke-width="0.8"/>
<line x1="468.10" y1="1084.09" x2="470.30" y2="1084.09" stroke="#333" stroke-width="0.8"/>
<text x="62.30" y="1086.89" font-size="8.3" text-anchor="end" fill="#151515">12h_old_IR</text>
<text x="472.60" y="1083.19" font-size="8.3" text-anchor="start" fill="#151515">12h old IR data</text>
<text x="472.60" y="1091.89" font-size="8.3" text-anchor="start" fill="#151515">(128x128 grid points)</text>
<circle cx="86.2" cy="1084.1" r="3.6" fill="#9332c2"/>
<line x1="65.90" y1="1118.68" x2="68.10" y2="1118.68" stroke="#333" stroke-width="0.8"/>
<line x1="468.10" y1="1118.68" x2="470.30" y2="1118.68" stroke="#333" stroke-width="0.8"/>
<text x="62.30" y="1121.48" font-size="8.3" text-anchor="end" fill="#151515">DELV</text>
<text x="472.60" y="1121.58" font-size="8.3" text-anchor="start" fill="#151515">-12h to 0h Intensity change</text>
<circle cx="401.0" cy="1118.7" r="3.6" fill="#0a86f3"/>
<line x1="65.90" y1="1153.28" x2="68.10" y2="1153.28" stroke="#333" stroke-width="0.8"/>
<line x1="468.10" y1="1153.28" x2="470.30" y2="1153.28" stroke="#333" stroke-width="0.8"/>
<text x="62.30" y="1156.08" font-size="8.3" text-anchor="end" fill="#151515">HIST</text>
<text x="472.60" y="1152.38" font-size="8.3" text-anchor="start" fill="#151515">The # of 6h periods VMAX</text>
<text x="472.60" y="1161.08" font-size="8.3" text-anchor="start" fill="#151515">has been above 20kt</text>
<circle cx="389.9" cy="1153.3" r="3.6" fill="#1a7ae8"/>
<line x1="65.90" y1="1187.88" x2="68.10" y2="1187.88" stroke="#333" stroke-width="0.8"/>
<line x1="468.10" y1="1187.88" x2="470.30" y2="1187.88" stroke="#333" stroke-width="0.8"/>
<text x="62.30" y="1190.68" font-size="8.3" text-anchor="end" fill="#151515">SPD</text>
<text x="472.60" y="1190.78" font-size="8.3" text-anchor="start" fill="#151515">TC Translation Speed</text>
<circle cx="405.0" cy="1187.9" r="3.6" fill="#0a86f3"/>
<line x1="65.90" y1="1222.47" x2="68.10" y2="1222.47" stroke="#333" stroke-width="0.8"/>
<line x1="468.10" y1="1222.47" x2="470.30" y2="1222.47" stroke="#333" stroke-width="0.8"/>
<text x="62.30" y="1225.27" font-size="8.3" text-anchor="end" fill="#151515">sin_lat</text>
<text x="472.60" y="1225.37" font-size="8.3" text-anchor="start" fill="#151515">Sine of Latitude</text>
<circle cx="424.2" cy="1222.5" r="3.6" fill="#9332c2"/>
<line x1="65.90" y1="1257.07" x2="68.10" y2="1257.07" stroke="#333" stroke-width="0.8"/>
<line x1="468.10" y1="1257.07" x2="470.30" y2="1257.07" stroke="#333" stroke-width="0.8"/>
<text x="62.30" y="1259.87" font-size="8.3" text-anchor="end" fill="#151515">cos_lon</text>
<text x="472.60" y="1259.97" font-size="8.3" text-anchor="start" fill="#151515">Cosine of Longitude</text>
<circle cx="392.8" cy="1257.1" r="3.6" fill="#8342c8"/>
<line x1="65.90" y1="1291.67" x2="68.10" y2="1291.67" stroke="#333" stroke-width="0.8"/>
<line x1="468.10" y1="1291.67" x2="470.30" y2="1291.67" stroke="#333" stroke-width="0.8"/>
<text x="62.30" y="1294.47" font-size="8.3" text-anchor="end" fill="#151515">sin_lon</text>
<text x="472.60" y="1294.57" font-size="8.3" text-anchor="start" fill="#151515">Sine of Longitude</text>
<circle cx="347.4" cy="1291.7" r="3.6" fill="#0a86f3"/>
<line x1="65.90" y1="1326.26" x2="68.10" y2="1326.26" stroke="#333" stroke-width="0.8"/>
<line x1="468.10" y1="1326.26" x2="470.30" y2="1326.26" stroke="#333" stroke-width="0.8"/>
<text x="62.30" y="1329.06" font-size="8.3" text-anchor="end" fill="#151515">DTL</text>
<text x="472.60" y="1329.16" font-size="8.3" text-anchor="start" fill="#151515">Distance to Land</text>
<circle cx="410.9" cy="1326.3" r="3.6" fill="#157be9"/>
<line x1="65.90" y1="1360.86" x2="68.10" y2="1360.86" stroke="#333" stroke-width="0.8"/>
<line x1="468.10" y1="1360.86" x2="470.30" y2="1360.86" stroke="#333" stroke-width="0.8"/>
<text x="62.30" y="1363.66" font-size="8.3" text-anchor="end" fill="#151515">sin_local_time</text>
<text x="472.60" y="1359.96" font-size="8.3" text-anchor="start" fill="#151515">Sine of Time of Day</text>
<text x="472.60" y="1368.66" font-size="8.3" text-anchor="start" fill="#151515">(Local Solar Time)</text>
<circle cx="408.5" cy="1360.9" r="3.6" fill="#8a3ac4"/>
<line x1="65.90" y1="1395.46" x2="68.10" y2="1395.46" stroke="#333" stroke-width="0.8"/>
<line x1="468.10" y1="1395.46" x2="470.30" y2="1395.46" stroke="#333" stroke-width="0.8"/>
<text x="62.30" y="1398.26" font-size="8.3" text-anchor="end" fill="#151515">SHRD</text>
<text x="472.60" y="1398.36" font-size="8.3" text-anchor="start" fill="#151515">850-200hPa shear (200-800 km)</text>
<circle cx="403.9" cy="1395.5" r="3.6" fill="#0a86f3"/>
<line x1="65.90" y1="1430.05" x2="68.10" y2="1430.05" stroke="#333" stroke-width="0.8"/>
<line x1="468.10" y1="1430.05" x2="470.30" y2="1430.05" stroke="#333" stroke-width="0.8"/>
<text x="62.30" y="1432.85" font-size="8.3" text-anchor="end" fill="#151515">SHDC</text>
<text x="472.60" y="1429.15" font-size="8.3" text-anchor="start" fill="#151515">850-200hPa shear with</text>
<text x="472.60" y="1437.85" font-size="8.3" text-anchor="start" fill="#151515">vortex removed (0-500 km)</text>
<circle cx="404.5" cy="1430.1" r="3.6" fill="#1a7ae8"/>
<line x1="65.90" y1="1464.65" x2="68.10" y2="1464.65" stroke="#333" stroke-width="0.8"/>
<line x1="468.10" y1="1464.65" x2="470.30" y2="1464.65" stroke="#333" stroke-width="0.8"/>
<text x="62.30" y="1467.45" font-size="8.3" text-anchor="end" fill="#151515">SHRS</text>
<text x="472.60" y="1467.55" font-size="8.3" text-anchor="start" fill="#151515">850-500hPa shear (200-800 km)</text>
<circle cx="407.4" cy="1464.7" r="3.6" fill="#0a86f3"/>
<line x1="65.90" y1="1499.25" x2="68.10" y2="1499.25" stroke="#333" stroke-width="0.8"/>
<line x1="468.10" y1="1499.25" x2="470.30" y2="1499.25" stroke="#333" stroke-width="0.8"/>
<text x="62.30" y="1502.05" font-size="8.3" text-anchor="end" fill="#151515">MPI</text>
<text x="472.60" y="1502.15" font-size="8.3" text-anchor="start" fill="#151515">Maximum potential intensity</text>
<circle cx="405.0" cy="1499.2" r="3.6" fill="#a524ac"/>
<line x1="65.90" y1="1533.85" x2="68.10" y2="1533.85" stroke="#333" stroke-width="0.8"/>
<line x1="468.10" y1="1533.85" x2="470.30" y2="1533.85" stroke="#333" stroke-width="0.8"/>
<text x="62.30" y="1536.65" font-size="8.3" text-anchor="end" fill="#151515">RSST</text>
<text x="472.60" y="1536.75" font-size="8.3" text-anchor="start" fill="#151515">Reynolds SST</text>
<circle cx="363.1" cy="1533.8" r="3.6" fill="#4464de"/>
<line x1="65.90" y1="1568.44" x2="68.10" y2="1568.44" stroke="#333" stroke-width="0.8"/>
<line x1="468.10" y1="1568.44" x2="470.30" y2="1568.44" stroke="#333" stroke-width="0.8"/>
<text x="62.30" y="1571.24" font-size="8.3" text-anchor="end" fill="#151515">COHC</text>
<text x="472.60" y="1571.34" font-size="8.3" text-anchor="start" fill="#151515">Climatological Ocean Heat Content</text>
<circle cx="449.9" cy="1568.4" r="3.6" fill="#0a86f3"/>
<line x1="65.90" y1="1603.04" x2="68.10" y2="1603.04" stroke="#333" stroke-width="0.8"/>
<line x1="468.10" y1="1603.04" x2="470.30" y2="1603.04" stroke="#333" stroke-width="0.8"/>
<text x="62.30" y="1605.84" font-size="8.3" text-anchor="end" fill="#151515">CD26</text>
<text x="472.60" y="1602.14" font-size="8.3" text-anchor="start" fill="#151515">Climatological depth of</text>
<text x="472.60" y="1610.84" font-size="8.3" text-anchor="start" fill="#151515">26° C isotherm</text>
<circle cx="392.8" cy="1603.0" r="3.6" fill="#c3109e"/>
<line x1="65.90" y1="1637.64" x2="68.10" y2="1637.64" stroke="#333" stroke-width="0.8"/>
<line x1="468.10" y1="1637.64" x2="470.30" y2="1637.64" stroke="#333" stroke-width="0.8"/>
<text x="62.30" y="1640.44" font-size="8.3" text-anchor="end" fill="#151515">CD20</text>
<text x="472.60" y="1636.74" font-size="8.3" text-anchor="start" fill="#151515">Climatological depth of</text>
<text x="472.60" y="1645.44" font-size="8.3" text-anchor="start" fill="#151515">20° C isotherm</text>
<circle cx="382.3" cy="1637.6" r="3.6" fill="#0a86f3"/>
<line x1="65.90" y1="1672.23" x2="68.10" y2="1672.23" stroke="#333" stroke-width="0.8"/>
<line x1="468.10" y1="1672.23" x2="470.30" y2="1672.23" stroke="#333" stroke-width="0.8"/>
<text x="62.30" y="1675.03" font-size="8.3" text-anchor="end" fill="#151515">DIVC</text>
<text x="472.60" y="1671.33" font-size="8.3" text-anchor="start" fill="#151515">200hPa divergence centered at</text>
<text x="472.60" y="1680.03" font-size="8.3" text-anchor="start" fill="#151515">850hPa vortex location</text>
<circle cx="406.2" cy="1672.2" r="3.6" fill="#f00a55"/>
<line x1="65.90" y1="1706.83" x2="68.10" y2="1706.83" stroke="#333" stroke-width="0.8"/>
<line x1="468.10" y1="1706.83" x2="470.30" y2="1706.83" stroke="#333" stroke-width="0.8"/>
<text x="62.30" y="1709.63" font-size="8.3" text-anchor="end" fill="#151515">V300</text>
<text x="472.60" y="1705.93" font-size="8.3" text-anchor="start" fill="#151515">300hPa tangential wind azimuthally</text>
<text x="472.60" y="1714.63" font-size="8.3" text-anchor="start" fill="#151515">averaged at 500 km</text>
<circle cx="399.8" cy="1706.8" r="3.6" fill="#1284ec"/>
<line x1="65.90" y1="1741.43" x2="68.10" y2="1741.43" stroke="#333" stroke-width="0.8"/>
<line x1="468.10" y1="1741.43" x2="470.30" y2="1741.43" stroke="#333" stroke-width="0.8"/>
<text x="62.30" y="1744.23" font-size="8.3" text-anchor="end" fill="#151515">V500</text>
<text x="472.60" y="1740.53" font-size="8.3" text-anchor="start" fill="#151515">500hPa tangential wind azimuthally</text>
<text x="472.60" y="1749.23" font-size="8.3" text-anchor="start" fill="#151515">averaged at 500 km</text>
<circle cx="390.5" cy="1741.4" r="3.6" fill="#e5127c"/>
<line x1="65.90" y1="1776.02" x2="68.10" y2="1776.02" stroke="#333" stroke-width="0.8"/>
<line x1="468.10" y1="1776.02" x2="470.30" y2="1776.02" stroke="#333" stroke-width="0.8"/>
<text x="62.30" y="1778.82" font-size="8.3" text-anchor="end" fill="#151515">V850</text>
<text x="472.60" y="1775.12" font-size="8.3" text-anchor="start" fill="#151515">850hPa tangential wind azimuthally</text>
<text x="472.60" y="1783.82" font-size="8.3" text-anchor="start" fill="#151515">averaged at 500 km</text>
<circle cx="396.9" cy="1776.0" r="3.6" fill="#7a4acb"/>
<line x1="65.90" y1="1810.62" x2="68.10" y2="1810.62" stroke="#333" stroke-width="0.8"/>
<line x1="468.10" y1="1810.62" x2="470.30" y2="1810.62" stroke="#333" stroke-width="0.8"/>
<text x="62.30" y="1813.42" font-size="8.3" text-anchor="end" fill="#151515">Z850</text>
<text x="472.60" y="1813.52" font-size="8.3" text-anchor="start" fill="#151515">850hPa vorticity (0-1000 km)</text>
<circle cx="422.5" cy="1810.6" r="3.6" fill="#0a86f3"/>
<line x1="65.90" y1="1845.22" x2="68.10" y2="1845.22" stroke="#333" stroke-width="0.8"/>
<line x1="468.10" y1="1845.22" x2="470.30" y2="1845.22" stroke="#333" stroke-width="0.8"/>
<text x="62.30" y="1848.02" font-size="8.3" text-anchor="end" fill="#151515">U200</text>
<text x="472.60" y="1848.12" font-size="8.3" text-anchor="start" fill="#151515">200hPa zonal wind (200-800 km)</text>
<circle cx="404.5" cy="1845.2" r="3.6" fill="#0a86f3"/>
<line x1="65.90" y1="1879.81" x2="68.10" y2="1879.81" stroke="#333" stroke-width="0.8"/>
<line x1="468.10" y1="1879.81" x2="470.30" y2="1879.81" stroke="#333" stroke-width="0.8"/>
<text x="62.30" y="1882.61" font-size="8.3" text-anchor="end" fill="#151515">U20C</text>
<text x="472.60" y="1882.71" font-size="8.3" text-anchor="start" fill="#151515">200hPa zonal wind (0-500 km)</text>
<circle cx="404.5" cy="1879.8" r="3.6" fill="#0a86f3"/>
<line x1="65.90" y1="1914.41" x2="68.10" y2="1914.41" stroke="#333" stroke-width="0.8"/>
<line x1="468.10" y1="1914.41" x2="470.30" y2="1914.41" stroke="#333" stroke-width="0.8"/>
<text x="62.30" y="1917.21" font-size="8.3" text-anchor="end" fill="#151515">V20C</text>
<text x="472.60" y="1917.31" font-size="8.3" text-anchor="start" fill="#151515">200hPa meridional wind (0-500 km)</text>
<circle cx="398.6" cy="1914.4" r="3.6" fill="#0a86f3"/>
<line x1="65.90" y1="1949.01" x2="68.10" y2="1949.01" stroke="#333" stroke-width="0.8"/>
<line x1="468.10" y1="1949.01" x2="470.30" y2="1949.01" stroke="#333" stroke-width="0.8"/>
<text x="62.30" y="1951.81" font-size="8.3" text-anchor="end" fill="#151515">RHMD</text>
<text x="472.60" y="1948.11" font-size="8.3" text-anchor="start" fill="#151515">700-500hPa relative humidity</text>
<text x="472.60" y="1956.81" font-size="8.3" text-anchor="start" fill="#151515">(200-800 km)</text>
<circle cx="413.8" cy="1949.0" r="3.6" fill="#0a86f3"/>
<line x1="65.90" y1="1983.60" x2="68.10" y2="1983.60" stroke="#333" stroke-width="0.8"/>
<line x1="468.10" y1="1983.60" x2="470.30" y2="1983.60" stroke="#333" stroke-width="0.8"/>
<text x="62.30" y="1986.40" font-size="8.3" text-anchor="end" fill="#151515">EPSS</text>
<text x="472.60" y="1982.70" font-size="8.3" text-anchor="start" fill="#151515">Avg. Δ <tspan font-style="italic">θ</tspan><tspan font-size="5.9" dy="1.7" font-style="italic">e</tspan><tspan dy="-1.7"> (only +) btwn parcel lifted from</tspan></text>
<text x="472.60" y="1991.40" font-size="8.3" text-anchor="start" fill="#151515">sfc. and saturated env. <tspan font-style="italic">θ</tspan><tspan font-size="5.9" dy="1.7" font-style="italic">e</tspan><tspan dy="-1.7"> (200-800 km)</tspan></text>
<circle cx="406.8" cy="1983.6" r="3.6" fill="#0a86f3"/>
<line x1="65.90" y1="2018.20" x2="68.10" y2="2018.20" stroke="#333" stroke-width="0.8"/>
<line x1="468.10" y1="2018.20" x2="470.30" y2="2018.20" stroke="#333" stroke-width="0.8"/>
<text x="62.30" y="2021.00" font-size="8.3" text-anchor="end" fill="#151515">ENSS</text>
<text x="472.60" y="2017.30" font-size="8.3" text-anchor="start" fill="#151515">Avg. Δ <tspan font-style="italic">θ</tspan><tspan font-size="5.9" dy="1.7" font-style="italic">e</tspan><tspan dy="-1.7"> (only -) btwn parcel lifted from</tspan></text>
<text x="472.60" y="2026.00" font-size="8.3" text-anchor="start" fill="#151515">sfc. and saturated env. <tspan font-style="italic">θ</tspan><tspan font-size="5.9" dy="1.7" font-style="italic">e</tspan><tspan dy="-1.7"> (200-800 km)</tspan></text>
<circle cx="405.6" cy="2018.2" r="3.6" fill="#0a86f3"/>
<text x="464.60" y="945.50" font-size="9.05" text-anchor="end" fill="#151515">Satellite SHAP=-28.4kts</text>
<text x="464.60" y="1118.48" font-size="9.05" text-anchor="end" fill="#151515">History SHAP=-0.7kts</text>
<text x="464.60" y="1222.27" font-size="9.05" text-anchor="end" fill="#151515">Location SHAP=-1.5kts</text>
<text x="464.60" y="1395.26" font-size="9.05" text-anchor="end" fill="#151515">Environmental SHAP=-1.2kts</text>
<text x="464.60" y="1672.03" font-size="9.05" text-anchor="end" fill="#151515">TC Dynamics SHAP=-0.1kts</text>
<line x1="83.84" y1="2035.50" x2="83.84" y2="2037.70" stroke="#333" stroke-width="0.8"/>
<text x="83.84" y="2046.50" font-size="8.2" text-anchor="middle" fill="#151515">−12</text>
<line x1="137.40" y1="2035.50" x2="137.40" y2="2037.70" stroke="#333" stroke-width="0.8"/>
<text x="137.40" y="2046.50" font-size="8.2" text-anchor="middle" fill="#151515">−10</text>
<line x1="190.96" y1="2035.50" x2="190.96" y2="2037.70" stroke="#333" stroke-width="0.8"/>
<text x="190.96" y="2046.50" font-size="8.2" text-anchor="middle" fill="#151515">−8</text>
<line x1="244.52" y1="2035.50" x2="244.52" y2="2037.70" stroke="#333" stroke-width="0.8"/>
<text x="244.52" y="2046.50" font-size="8.2" text-anchor="middle" fill="#151515">−6</text>
<line x1="298.08" y1="2035.50" x2="298.08" y2="2037.70" stroke="#333" stroke-width="0.8"/>
<text x="298.08" y="2046.50" font-size="8.2" text-anchor="middle" fill="#151515">−4</text>
<line x1="351.64" y1="2035.50" x2="351.64" y2="2037.70" stroke="#333" stroke-width="0.8"/>
<text x="351.64" y="2046.50" font-size="8.2" text-anchor="middle" fill="#151515">−2</text>
<line x1="405.20" y1="2035.50" x2="405.20" y2="2037.70" stroke="#333" stroke-width="0.8"/>
<text x="405.20" y="2046.50" font-size="8.2" text-anchor="middle" fill="#151515">0</text>
<line x1="458.76" y1="2035.50" x2="458.76" y2="2037.70" stroke="#333" stroke-width="0.8"/>
<text x="458.76" y="2046.50" font-size="8.2" text-anchor="middle" fill="#151515">2</text>
<text x="267.60" y="2059.30" font-size="11.2" text-anchor="middle" fill="#111">SHAP Value [kts]</text>
<linearGradient id="fvgrad" x1="0" x2="1" y1="0" y2="0"><stop offset="0" stop-color="#008bfb"/><stop offset="0.10" stop-color="#0084f5"/><stop offset="0.175" stop-color="#0079ec"/><stop offset="0.20" stop-color="#1f72e8"/><stop offset="0.26" stop-color="#4a62de"/><stop offset="0.34" stop-color="#6c54d3"/><stop offset="0.45" stop-color="#8e3cc4"/><stop offset="0.6" stop-color="#b413a8"/><stop offset="0.72" stop-color="#d2058f"/><stop offset="0.86" stop-color="#f00572"/><stop offset="1" stop-color="#ff0052"/></linearGradient>
<rect x="29.10" y="2083.20" width="588.00" height="24.60" fill="url(#fvgrad)" stroke="#555" stroke-width="0.6"/>
<text x="617.30" y="2078.00" font-size="9.7" text-anchor="end" fill="#111">Feature Value</text>
<text x="20.30" y="2120.40" font-size="9.1" text-anchor="start" fill="#111">Low</text>
<text x="627.30" y="2120.40" font-size="9.1" text-anchor="end" fill="#111">High</text>
<text x="29.10" y="2135.60" font-size="9.03" text-anchor="start" fill="#111">SHAP Value: Amount each feature [listed on Y-axis] contributes to the predicted intensity above or below <tspan text-decoration="underline">60 kts</tspan></text>
<text x="29.10" y="2150.20" font-size="9.03" text-anchor="start" fill="#111">Feature Value: The value of the feature [listed on Y-axis] for the given TC compared to the training dataset</text>
<text x="918.00" y="915.20" font-size="11.8" text-anchor="middle" fill="#111">Comparison of IR SHAP Values for 2025_02W at 20250624 0730UTC</text>
<g clip-path="url(#irc0)"><g filter="url(#irf0)"><rect x="703.8" y="923.6" width="228.1" height="227.7" fill="rgb(38,38,38)"/><g transform="translate(717.8 937.6) scale(0.17132)"><g filter="url(#cirblur)"><path d="M0,560 C150,480 300,330 420,150 S560,20 600,-20" fill="none" stroke="rgb(51,51,51)" stroke-width="170" stroke-linecap="round" stroke-linejoin="round"/><path d="M-20,420 C120,330 260,200 330,40" fill="none" stroke="rgb(61,61,61)" stroke-width="60" stroke-linecap="round" stroke-linejoin="round"/><ellipse cx="980" cy="200" rx="230" ry="170" fill="rgb(48,48,48)" transform="rotate(20 980 200)"/><ellipse cx="640" cy="400" rx="260" ry="90" fill="rgb(56,56,56)" transform="rotate(-20 640 400)"/><path d="M-20,980 C250,1000 520,1010 700,930 S830,800 810,760" fill="none" stroke="rgb(65,65,65)" stroke-width="150" stroke-linecap="round" stroke-linejoin="round"/><path d="M100,830 C300,800 480,800 600,790" fill="none" stroke="rgb(69,69,69)" stroke-width="60" stroke-linecap="round" stroke-linejoin="round"/><ellipse cx="240" cy="1100" rx="300" ry="80" fill="rgb(51,51,51)"/><ellipse cx="170" cy="520" rx="170" ry="70" fill="rgb(26,26,26)" transform="rotate(-25 170 520)"/><ellipse cx="1000" cy="900" rx="160" ry="200" fill="rgb(31,31,31)"/></g><path d="M420,520 C480,430 600,430 700,470 S820,560 780,660 S720,800 600,800 S420,790 400,700 S390,580 420,520Z" fill="rgb(110,110,110)" stroke="rgb(110,110,110)" stroke-width="36" stroke-linejoin="round"/><path d="M450,540 C500,470 620,470 690,510 S760,600 720,690 S640,780 540,775 S430,720 430,650 S430,580 450,540Z" fill="rgb(156,156,156)"/><path d="M460,620 C520,560 620,600 670,640 S680,750 600,775 S460,790 440,720 S440,650 460,620Z" fill="rgb(186,186,186)"/><path d="M550,540 C590,490 650,510 670,560 S690,660 640,660 S550,630 545,590Z" fill="rgb(207,207,207)"/><ellipse cx="600" cy="558" rx="26" ry="30" fill="rgb(226,226,226)"/><path d="M300,700 C350,740 400,750 460,750" fill="none" stroke="rgb(128,128,128)" stroke-width="40" stroke-linecap="round" stroke-linejoin="round"/><path d="M700,520 C760,520 820,560 880,600" fill="none" stroke="rgb(107,107,107)" stroke-width="40" stroke-linecap="round" stroke-linejoin="round"/><path d="M740,640 C760,680 750,720 700,740" fill="none" stroke="rgb(102,102,102)" stroke-width="40" stroke-linecap="round" stroke-linejoin="round"/><path d="M30,880 C150,860 350,850 520,820" fill="none" stroke="rgb(102,102,102)" stroke-width="70" stroke-linecap="round" stroke-linejoin="round"/><path d="M220,900 C300,880 380,870 450,850" fill="none" stroke="rgb(143,143,143)" stroke-width="36" stroke-linecap="round" stroke-linejoin="round"/><ellipse cx="660" cy="880" rx="130" ry="70" fill="rgb(92,92,92)" transform="rotate(-15 660 880)"/><ellipse cx="215" cy="690" rx="40" ry="70" fill="rgb(102,102,102)" transform="rotate(-20 215 690)"/><ellipse cx="340" cy="660" rx="50" ry="30" fill="rgb(97,97,97)"/><ellipse cx="640" cy="80" rx="85" ry="60" fill="rgb(133,133,133)" transform="rotate(-40 640 80)"/><ellipse cx="650" cy="40" rx="30" ry="40" fill="rgb(178,178,178)" transform="rotate(-30 650 40)"/><path d="M420,330 C460,280 510,240 550,210" fill="none" stroke="rgb(128,128,128)" stroke-width="30" stroke-linecap="round" stroke-linejoin="round"/><path d="M660,290 C700,230 760,180 810,110" fill="none" stroke="rgb(112,112,112)" stroke-width="26" stroke-linecap="round" stroke-linejoin="round"/><ellipse cx="600" cy="310" rx="28" ry="22" fill="rgb(128,128,128)"/><ellipse cx="790" cy="372" rx="55" ry="32" fill="rgb(94,94,94)"/><ellipse cx="1135" cy="167" rx="20" ry="18" fill="rgb(107,107,107)"/><ellipse cx="935" cy="330" rx="16" ry="14" fill="rgb(102,102,102)"/><path d="M430,210 C470,190 500,180 520,130" fill="none" stroke="rgb(102,102,102)" stroke-width="22" stroke-linecap="round" stroke-linejoin="round"/><ellipse cx="860" cy="40" rx="60" ry="35" fill="rgb(97,97,97)"/><path d="M900,400 C960,470 1010,540 1045,590" fill="none" stroke="rgb(128,128,128)" stroke-width="44" stroke-linecap="round" stroke-linejoin="round"/><ellipse cx="920" cy="430" rx="16" ry="18" fill="rgb(204,204,204)"/><ellipse cx="986" cy="510" rx="14" ry="16" fill="rgb(194,194,194)"/><ellipse cx="1030" cy="565" rx="12" ry="16" fill="rgb(184,184,184)"/><ellipse cx="985" cy="635" rx="24" ry="40" fill="rgb(133,133,133)"/><ellipse cx="1010" cy="700" rx="60" ry="30" fill="rgb(92,92,92)"/><ellipse cx="40" cy="50" rx="50" ry="40" fill="rgb(87,87,87)"/><ellipse cx="160" cy="25" rx="40" ry="22" fill="rgb(87,87,87)"/><ellipse cx="250" cy="10" rx="30" ry="15" fill="rgb(84,84,84)"/><ellipse cx="50" cy="990" rx="60" ry="50" fill="rgb(97,97,97)"/><ellipse cx="60" cy="1110" rx="50" ry="30" fill="rgb(97,97,97)"/><ellipse cx="170" cy="1140" rx="40" ry="20" fill="rgb(92,92,92)"/><ellipse cx="970" cy="960" rx="20" ry="40" fill="rgb(107,107,107)"/><ellipse cx="900" cy="1120" rx="50" ry="18" fill="rgb(102,102,102)"/><ellipse cx="985" cy="1145" rx="25" ry="15" fill="rgb(115,115,115)"/><ellipse cx="1025" cy="1015" rx="16" ry="12" fill="rgb(92,92,92)"/></g></g></g>
<g clip-path="url(#shc0)"><rect x="955.7" y="937.6" width="200.4" height="199.7" fill="url(#shg0)" filter="url(#shf0)"/><g filter="url(#spotblur)"><g transform="translate(955.7 937.6) scale(0.17158)"><ellipse cx="545" cy="432" rx="22" ry="18" fill="#e80000" opacity="1.00"/><ellipse cx="445" cy="575" rx="22" ry="10" fill="#e80000" opacity="1.00"/><ellipse cx="575" cy="490" rx="20" ry="10" fill="#ff0000" opacity="0.80"/><ellipse cx="495" cy="500" rx="10" ry="10" fill="#ff0000" opacity="0.60"/><ellipse cx="445" cy="737" rx="14" ry="14" fill="#ff0000" opacity="0.55"/><ellipse cx="660" cy="800" rx="10" ry="10" fill="#ff0000" opacity="0.50"/><ellipse cx="470" cy="640" rx="14" ry="22" fill="#ff0000" opacity="0.50" transform="rotate(30 470 640)"/><ellipse cx="690" cy="405" rx="22" ry="10" fill="#ff0000" opacity="0.40" transform="rotate(-20 690 405)"/><ellipse cx="330" cy="470" rx="12" ry="22" fill="#ff0000" opacity="0.35" transform="rotate(-20 330 470)"/><ellipse cx="770" cy="700" rx="10" ry="22" fill="#ff0000" opacity="0.30"/><ellipse cx="600" cy="450" rx="40" ry="10" fill="#0000ff" opacity="0.90" transform="rotate(-40 600 450)"/><ellipse cx="480" cy="597" rx="10" ry="10" fill="#0000e0" opacity="1.00"/><ellipse cx="395" cy="580" rx="14" ry="22" fill="#0000ff" opacity="0.60"/><ellipse cx="530" cy="475" rx="25" ry="10" fill="#0000ff" opacity="0.70" transform="rotate(-20 530 475)"/><ellipse cx="470" cy="345" rx="10" ry="20" fill="#0000ff" opacity="0.50"/><ellipse cx="740" cy="745" rx="12" ry="12" fill="#0000ff" opacity="0.35"/><ellipse cx="470" cy="690" rx="10" ry="25" fill="#0000ff" opacity="0.45" transform="rotate(30 470 690)"/><ellipse cx="600" cy="640" rx="16" ry="16" fill="#0000ff" opacity="0.30"/><ellipse cx="545" cy="345" rx="10" ry="25" fill="#0000ff" opacity="0.40"/><ellipse cx="800" cy="430" rx="25" ry="16" fill="#0000ff" opacity="0.30"/><ellipse cx="210" cy="625" rx="16" ry="10" fill="#0000ff" opacity="0.30"/></g></g></g>
<rect x="717.80" y="937.60" width="200.10" height="199.70" fill="none" stroke="#222" stroke-width="0.9"/>
<rect x="955.70" y="937.60" width="200.40" height="199.70" fill="none" stroke="#222" stroke-width="0.9"/>
<text x="817.85" y="933.70" font-size="11.1" text-anchor="middle" fill="#111">0h old IR Data</text>
<text x="1055.90" y="933.70" font-size="11.1" text-anchor="middle" fill="#111">SHAP Value=-8.53 kts</text>
<line x1="715.20" y1="943.70" x2="717.80" y2="943.70" stroke="#111" stroke-width="1.0"/>
<line x1="953.10" y1="943.70" x2="955.70" y2="943.70" stroke="#111" stroke-width="1.0"/>
<text x="712.60" y="947.90" font-size="9.45" text-anchor="end" fill="#111">33</text>
<line x1="715.20" y1="975.15" x2="717.80" y2="975.15" stroke="#111" stroke-width="1.0"/>
<line x1="953.10" y1="975.15" x2="955.70" y2="975.15" stroke="#111" stroke-width="1.0"/>
<text x="712.60" y="979.35" font-size="9.45" text-anchor="end" fill="#111">32</text>
<line x1="715.20" y1="1006.60" x2="717.80" y2="1006.60" stroke="#111" stroke-width="1.0"/>
<line x1="953.10" y1="1006.60" x2="955.70" y2="1006.60" stroke="#111" stroke-width="1.0"/>
<text x="712.60" y="1010.80" font-size="9.45" text-anchor="end" fill="#111">31</text>
<line x1="715.20" y1="1038.05" x2="717.80" y2="1038.05" stroke="#111" stroke-width="1.0"/>
<line x1="953.10" y1="1038.05" x2="955.70" y2="1038.05" stroke="#111" stroke-width="1.0"/>
<text x="712.60" y="1042.25" font-size="9.45" text-anchor="end" fill="#111">30</text>
<line x1="715.20" y1="1069.50" x2="717.80" y2="1069.50" stroke="#111" stroke-width="1.0"/>
<line x1="953.10" y1="1069.50" x2="955.70" y2="1069.50" stroke="#111" stroke-width="1.0"/>
<text x="712.60" y="1073.70" font-size="9.45" text-anchor="end" fill="#111">29</text>
<line x1="715.20" y1="1100.95" x2="717.80" y2="1100.95" stroke="#111" stroke-width="1.0"/>
<line x1="953.10" y1="1100.95" x2="955.70" y2="1100.95" stroke="#111" stroke-width="1.0"/>
<text x="712.60" y="1105.15" font-size="9.45" text-anchor="end" fill="#111">28</text>
<line x1="715.20" y1="1132.40" x2="717.80" y2="1132.40" stroke="#111" stroke-width="1.0"/>
<line x1="953.10" y1="1132.40" x2="955.70" y2="1132.40" stroke="#111" stroke-width="1.0"/>
<text x="712.60" y="1136.60" font-size="9.45" text-anchor="end" fill="#111">27</text>
<line x1="725.20" y1="1137.30" x2="725.20" y2="1139.90" stroke="#111" stroke-width="1.0"/>
<text x="725.20" y="1150.40" font-size="9.45" text-anchor="middle" fill="#111">137</text>
<line x1="752.39" y1="1137.30" x2="752.39" y2="1139.90" stroke="#111" stroke-width="1.0"/>
<text x="752.39" y="1150.40" font-size="9.45" text-anchor="middle" fill="#111">138</text>
<line x1="779.58" y1="1137.30" x2="779.58" y2="1139.90" stroke="#111" stroke-width="1.0"/>
<text x="779.58" y="1150.40" font-size="9.45" text-anchor="middle" fill="#111">139</text>
<line x1="806.77" y1="1137.30" x2="806.77" y2="1139.90" stroke="#111" stroke-width="1.0"/>
<text x="806.77" y="1150.40" font-size="9.45" text-anchor="middle" fill="#111">140</text>
<line x1="833.96" y1="1137.30" x2="833.96" y2="1139.90" stroke="#111" stroke-width="1.0"/>
<text x="833.96" y="1150.40" font-size="9.45" text-anchor="middle" fill="#111">141</text>
<line x1="861.15" y1="1137.30" x2="861.15" y2="1139.90" stroke="#111" stroke-width="1.0"/>
<text x="861.15" y="1150.40" font-size="9.45" text-anchor="middle" fill="#111">142</text>
<line x1="888.34" y1="1137.30" x2="888.34" y2="1139.90" stroke="#111" stroke-width="1.0"/>
<text x="888.34" y="1150.40" font-size="9.45" text-anchor="middle" fill="#111">143</text>
<line x1="915.53" y1="1137.30" x2="915.53" y2="1139.90" stroke="#111" stroke-width="1.0"/>
<text x="915.53" y="1150.40" font-size="9.45" text-anchor="middle" fill="#111">144</text>
<line x1="963.00" y1="1137.30" x2="963.00" y2="1139.90" stroke="#111" stroke-width="1.0"/>
<line x1="990.20" y1="1137.30" x2="990.20" y2="1139.90" stroke="#111" stroke-width="1.0"/>
<line x1="1017.40" y1="1137.30" x2="1017.40" y2="1139.90" stroke="#111" stroke-width="1.0"/>
<line x1="1044.60" y1="1137.30" x2="1044.60" y2="1139.90" stroke="#111" stroke-width="1.0"/>
<line x1="1071.80" y1="1137.30" x2="1071.80" y2="1139.90" stroke="#111" stroke-width="1.0"/>
<line x1="1099.00" y1="1137.30" x2="1099.00" y2="1139.90" stroke="#111" stroke-width="1.0"/>
<line x1="1126.20" y1="1137.30" x2="1126.20" y2="1139.90" stroke="#111" stroke-width="1.0"/>
<line x1="1153.40" y1="1137.30" x2="1153.40" y2="1139.90" stroke="#111" stroke-width="1.0"/>
<g clip-path="url(#irc1)"><g filter="url(#irf1)"><rect x="703.8" y="1161.5" width="228.1" height="227.7" fill="rgb(36,36,36)"/><g transform="translate(717.8 1175.5) scale(0.17132)"><g filter="url(#cirblur)"><path d="M-20,420 C100,330 220,220 330,60" fill="none" stroke="rgb(54,54,54)" stroke-width="150" stroke-linecap="round" stroke-linejoin="round"/><path d="M-20,1010 C200,930 420,890 640,930 S900,900 980,760" fill="none" stroke="rgb(60,60,60)" stroke-width="130" stroke-linecap="round" stroke-linejoin="round"/><ellipse cx="1000" cy="420" rx="200" ry="160" fill="rgb(46,46,46)"/><ellipse cx="420" cy="520" rx="220" ry="200" fill="rgb(56,56,56)"/><ellipse cx="850" cy="1050" rx="300" ry="120" fill="rgb(43,43,43)"/><ellipse cx="250" cy="300" rx="120" ry="110" fill="rgb(66,66,66)"/><ellipse cx="330" cy="700" rx="200" ry="60" fill="rgb(69,69,69)" transform="rotate(-15 330 700)"/></g><path d="M130,740 C170,660 300,630 420,640 S500,560 480,470 S560,380 680,400 S880,420 880,560 S820,780 700,830 S420,900 300,880 S120,820 130,740Z" fill="rgb(102,102,102)"/><path d="M280,880 C400,870 520,860 620,810" fill="none" stroke="rgb(89,89,89)" stroke-width="50" stroke-linecap="round" stroke-linejoin="round"/><path d="M540,390 C580,360 630,330 665,310" fill="none" stroke="rgb(107,107,107)" stroke-width="40" stroke-linecap="round" stroke-linejoin="round"/><path d="M870,560 C850,680 760,800 650,870" fill="none" stroke="rgb(92,92,92)" stroke-width="24" stroke-linecap="round" stroke-linejoin="round"/><path d="M930,600 C900,720 820,800 760,840" fill="none" stroke="rgb(84,84,84)" stroke-width="18" stroke-linecap="round" stroke-linejoin="round"/><ellipse cx="420" cy="480" rx="90" ry="130" fill="rgb(92,92,92)" transform="rotate(20 420 480)"/><path d="M200,730 C280,760 380,780 470,760" fill="none" stroke="rgb(143,143,143)" stroke-width="70" stroke-linecap="round" stroke-linejoin="round"/><path d="M260,740 C330,760 390,770 440,750" fill="none" stroke="rgb(163,163,163)" stroke-width="30" stroke-linecap="round" stroke-linejoin="round"/><path d="M420,740 C450,680 540,660 580,600 S660,560 670,620 S640,730 560,770 S430,800 420,740Z" fill="rgb(191,191,191)"/><path d="M540,690 C560,640 580,600 620,590 S670,620 640,680 S560,730 540,690Z" fill="rgb(204,204,204)"/><ellipse cx="597" cy="532" rx="112" ry="92" fill="rgb(204,204,204)" transform="rotate(10 597 532)"/><ellipse cx="597" cy="530" rx="98" ry="80" fill="rgb(221,221,221)" transform="rotate(10 597 530)"/><ellipse cx="600" cy="515" rx="40" ry="30" fill="rgb(226,226,226)"/><ellipse cx="785" cy="545" rx="32" ry="62" fill="rgb(140,140,140)" transform="rotate(-10 785 545)"/><ellipse cx="770" cy="540" rx="12" ry="20" fill="rgb(184,184,184)"/><ellipse cx="700" cy="450" rx="40" ry="25" fill="rgb(128,128,128)" transform="rotate(-30 700 450)"/><ellipse cx="940" cy="600" rx="28" ry="36" fill="rgb(128,128,128)" transform="rotate(30 940 600)"/><ellipse cx="385" cy="565" rx="14" ry="22" fill="rgb(189,189,189)"/><path d="M240,120 C270,80 300,50 330,20" fill="none" stroke="rgb(143,143,143)" stroke-width="30" stroke-linecap="round" stroke-linejoin="round"/><path d="M250,110 C275,75 300,50 325,25" fill="none" stroke="rgb(168,168,168)" stroke-width="10" stroke-linecap="round" stroke-linejoin="round"/><path d="M365,135 C400,90 430,60 455,20" fill="none" stroke="rgb(143,143,143)" stroke-width="34" stroke-linecap="round" stroke-linejoin="round"/><path d="M375,125 C405,85 430,60 450,30" fill="none" stroke="rgb(168,168,168)" stroke-width="12" stroke-linecap="round" stroke-linejoin="round"/><path d="M470,150 C520,100 570,50 620,5" fill="none" stroke="rgb(143,143,143)" stroke-width="36" stroke-linecap="round" stroke-linejoin="round"/><path d="M480,140 C530,95 570,55 610,15" fill="none" stroke="rgb(163,163,163)" stroke-width="12" stroke-linecap="round" stroke-linejoin="round"/><path d="M230,250 C260,210 280,180 300,150" fill="none" stroke="rgb(117,117,117)" stroke-width="22" stroke-linecap="round" stroke-linejoin="round"/><path d="M410,210 C440,180 460,170 480,150" fill="none" stroke="rgb(102,102,102)" stroke-width="18" stroke-linecap="round" stroke-linejoin="round"/><path d="M610,180 C680,130 730,80 780,30" fill="none" stroke="rgb(102,102,102)" stroke-width="40" stroke-linecap="round" stroke-linejoin="round"/><path d="M10,385 C25,350 40,325 55,300" fill="none" stroke="rgb(128,128,128)" stroke-width="24" stroke-linecap="round" stroke-linejoin="round"/><ellipse cx="1015" cy="45" rx="20" ry="22" fill="rgb(117,117,117)"/><ellipse cx="1100" cy="95" rx="32" ry="20" fill="rgb(107,107,107)" transform="rotate(-20 1100 95)"/><ellipse cx="960" cy="20" rx="15" ry="10" fill="rgb(97,97,97)"/><ellipse cx="1030" cy="1005" rx="50" ry="45" fill="rgb(107,107,107)" transform="rotate(30 1030 1005)"/><ellipse cx="1040" cy="1015" rx="20" ry="25" fill="rgb(158,158,158)" transform="rotate(20 1040 1015)"/><ellipse cx="240" cy="1140" rx="20" ry="12" fill="rgb(92,92,92)"/><ellipse cx="1100" cy="315" rx="8" ry="8" fill="rgb(102,102,102)"/><path d="M150,330 C180,290 210,260 240,230" fill="none" stroke="rgb(92,92,92)" stroke-width="14" stroke-linecap="round" stroke-linejoin="round"/><path d="M640,150 C670,120 700,100 730,80" fill="none" stroke="rgb(97,97,97)" stroke-width="14" stroke-linecap="round" stroke-linejoin="round"/><path d="M500,200 C520,180 540,165 560,150" fill="none" stroke="rgb(92,92,92)" stroke-width="10" stroke-linecap="round" stroke-linejoin="round"/><ellipse cx="560" cy="905" rx="40" ry="10" fill="rgb(84,84,84)" transform="rotate(-10 560 905)"/></g></g></g>
<g clip-path="url(#shc1)"><rect x="955.7" y="1175.5" width="200.4" height="199.7" fill="url(#shg1)" filter="url(#shf1)"/><g filter="url(#spotblur)"><g transform="translate(955.7 1175.5) scale(0.17158)"><ellipse cx="442" cy="572" rx="12" ry="12" fill="#e80000" opacity="1.00"/><ellipse cx="545" cy="425" rx="22" ry="10" fill="#ff0000" opacity="0.55" transform="rotate(-30 545 425)"/><ellipse cx="450" cy="495" rx="8" ry="8" fill="#ff0000" opacity="0.50"/><ellipse cx="530" cy="660" rx="10" ry="10" fill="#ff0000" opacity="0.50"/><ellipse cx="690" cy="690" rx="25" ry="20" fill="#ff0000" opacity="0.25"/><ellipse cx="715" cy="600" rx="14" ry="8" fill="#ff0000" opacity="0.30"/><ellipse cx="495" cy="445" rx="12" ry="10" fill="#ff0000" opacity="0.40"/><ellipse cx="440" cy="620" rx="20" ry="10" fill="#ff0000" opacity="0.25"/><ellipse cx="460" cy="540" rx="8" ry="16" fill="#0000ff" opacity="0.80"/><ellipse cx="470" cy="592" rx="8" ry="8" fill="#0000ff" opacity="0.80"/><ellipse cx="412" cy="548" rx="10" ry="10" fill="#0000ff" opacity="0.55"/><ellipse cx="395" cy="665" rx="12" ry="12" fill="#0000ff" opacity="0.55"/><ellipse cx="490" cy="380" rx="14" ry="14" fill="#0000ff" opacity="0.45"/><ellipse cx="520" cy="635" rx="16" ry="8" fill="#0000ff" opacity="0.60" transform="rotate(-40 520 635)"/><ellipse cx="570" cy="405" rx="8" ry="8" fill="#0000ff" opacity="0.50"/><ellipse cx="570" cy="575" rx="20" ry="16" fill="#0000ff" opacity="0.20"/><ellipse cx="650" cy="720" rx="10" ry="8" fill="#0000ff" opacity="0.35"/></g></g></g>
<rect x="717.80" y="1175.50" width="200.10" height="199.70" fill="none" stroke="#222" stroke-width="0.9"/>
<rect x="955.70" y="1175.50" width="200.40" height="199.70" fill="none" stroke="#222" stroke-width="0.9"/>
<text x="817.85" y="1171.60" font-size="11.1" text-anchor="middle" fill="#111">3h old IR Data</text>
<text x="1055.90" y="1171.60" font-size="11.1" text-anchor="middle" fill="#111">SHAP Value=-0.73 kts</text>
<line x1="715.20" y1="1176.60" x2="717.80" y2="1176.60" stroke="#111" stroke-width="1.0"/>
<line x1="953.10" y1="1176.60" x2="955.70" y2="1176.60" stroke="#111" stroke-width="1.0"/>
<text x="712.60" y="1180.80" font-size="9.45" text-anchor="end" fill="#111">33</text>
<line x1="715.20" y1="1207.97" x2="717.80" y2="1207.97" stroke="#111" stroke-width="1.0"/>
<line x1="953.10" y1="1207.97" x2="955.70" y2="1207.97" stroke="#111" stroke-width="1.0"/>
<text x="712.60" y="1212.17" font-size="9.45" text-anchor="end" fill="#111">32</text>
<line x1="715.20" y1="1239.34" x2="717.80" y2="1239.34" stroke="#111" stroke-width="1.0"/>
<line x1="953.10" y1="1239.34" x2="955.70" y2="1239.34" stroke="#111" stroke-width="1.0"/>
<text x="712.60" y="1243.54" font-size="9.45" text-anchor="end" fill="#111">31</text>
<line x1="715.20" y1="1270.71" x2="717.80" y2="1270.71" stroke="#111" stroke-width="1.0"/>
<line x1="953.10" y1="1270.71" x2="955.70" y2="1270.71" stroke="#111" stroke-width="1.0"/>
<text x="712.60" y="1274.91" font-size="9.45" text-anchor="end" fill="#111">30</text>
<line x1="715.20" y1="1302.08" x2="717.80" y2="1302.08" stroke="#111" stroke-width="1.0"/>
<line x1="953.10" y1="1302.08" x2="955.70" y2="1302.08" stroke="#111" stroke-width="1.0"/>
<text x="712.60" y="1306.28" font-size="9.45" text-anchor="end" fill="#111">29</text>
<line x1="715.20" y1="1333.45" x2="717.80" y2="1333.45" stroke="#111" stroke-width="1.0"/>
<line x1="953.10" y1="1333.45" x2="955.70" y2="1333.45" stroke="#111" stroke-width="1.0"/>
<text x="712.60" y="1337.65" font-size="9.45" text-anchor="end" fill="#111">28</text>
<line x1="715.20" y1="1364.82" x2="717.80" y2="1364.82" stroke="#111" stroke-width="1.0"/>
<line x1="953.10" y1="1364.82" x2="955.70" y2="1364.82" stroke="#111" stroke-width="1.0"/>
<text x="712.60" y="1369.02" font-size="9.45" text-anchor="end" fill="#111">27</text>
<line x1="722.30" y1="1375.20" x2="722.30" y2="1377.80" stroke="#111" stroke-width="1.0"/>
<text x="722.30" y="1388.30" font-size="9.45" text-anchor="middle" fill="#111">137</text>
<line x1="749.37" y1="1375.20" x2="749.37" y2="1377.80" stroke="#111" stroke-width="1.0"/>
<text x="749.37" y="1388.30" font-size="9.45" text-anchor="middle" fill="#111">138</text>
<line x1="776.44" y1="1375.20" x2="776.44" y2="1377.80" stroke="#111" stroke-width="1.0"/>
<text x="776.44" y="1388.30" font-size="9.45" text-anchor="middle" fill="#111">139</text>
<line x1="803.51" y1="1375.20" x2="803.51" y2="1377.80" stroke="#111" stroke-width="1.0"/>
<text x="803.51" y="1388.30" font-size="9.45" text-anchor="middle" fill="#111">140</text>
<line x1="830.58" y1="1375.20" x2="830.58" y2="1377.80" stroke="#111" stroke-width="1.0"/>
<text x="830.58" y="1388.30" font-size="9.45" text-anchor="middle" fill="#111">141</text>
<line x1="857.65" y1="1375.20" x2="857.65" y2="1377.80" stroke="#111" stroke-width="1.0"/>
<text x="857.65" y="1388.30" font-size="9.45" text-anchor="middle" fill="#111">142</text>
<line x1="884.72" y1="1375.20" x2="884.72" y2="1377.80" stroke="#111" stroke-width="1.0"/>
<text x="884.72" y="1388.30" font-size="9.45" text-anchor="middle" fill="#111">143</text>
<line x1="911.79" y1="1375.20" x2="911.79" y2="1377.80" stroke="#111" stroke-width="1.0"/>
<text x="911.79" y="1388.30" font-size="9.45" text-anchor="middle" fill="#111">144</text>
<line x1="960.00" y1="1375.20" x2="960.00" y2="1377.80" stroke="#111" stroke-width="1.0"/>
<line x1="987.20" y1="1375.20" x2="987.20" y2="1377.80" stroke="#111" stroke-width="1.0"/>
<line x1="1014.40" y1="1375.20" x2="1014.40" y2="1377.80" stroke="#111" stroke-width="1.0"/>
<line x1="1041.60" y1="1375.20" x2="1041.60" y2="1377.80" stroke="#111" stroke-width="1.0"/>
<line x1="1068.80" y1="1375.20" x2="1068.80" y2="1377.80" stroke="#111" stroke-width="1.0"/>
<line x1="1096.00" y1="1375.20" x2="1096.00" y2="1377.80" stroke="#111" stroke-width="1.0"/>
<line x1="1123.20" y1="1375.20" x2="1123.20" y2="1377.80" stroke="#111" stroke-width="1.0"/>
<line x1="1150.40" y1="1375.20" x2="1150.40" y2="1377.80" stroke="#111" stroke-width="1.0"/>
<g clip-path="url(#irc2)"><g filter="url(#irf2)"><rect x="703.8" y="1399.0" width="228.1" height="227.7" fill="rgb(36,36,36)"/><g transform="translate(717.8 1413.0) scale(0.17132)"><g filter="url(#cirblur)"><ellipse cx="520" cy="800" rx="400" ry="230" fill="rgb(64,64,64)" transform="rotate(-15 520 800)"/><path d="M-20,720 C150,600 300,480 420,380" fill="none" stroke="rgb(54,54,54)" stroke-width="130" stroke-linecap="round" stroke-linejoin="round"/><ellipse cx="230" cy="230" rx="260" ry="170" fill="rgb(59,59,59)" transform="rotate(-30 230 230)"/><ellipse cx="1000" cy="120" rx="200" ry="100" fill="rgb(56,56,56)" transform="rotate(-20 1000 120)"/><ellipse cx="700" cy="550" rx="110" ry="110" fill="rgb(64,64,64)"/></g><path d="M10,680 C100,610 200,540 400,420 S560,280 700,200" fill="none" stroke="rgb(107,107,107)" stroke-width="62" stroke-linecap="round" stroke-linejoin="round"/><path d="M120,590 C180,550 240,510 300,478" fill="none" stroke="rgb(158,158,158)" stroke-width="20" stroke-linecap="round" stroke-linejoin="round"/><ellipse cx="430" cy="470" rx="70" ry="80" fill="rgb(110,110,110)"/><path d="M520,130 C560,40 640,0 700,-10 L880,-10 L860,80 C780,150 640,110 520,130Z" fill="rgb(88,88,88)"/><ellipse cx="800" cy="112" rx="32" ry="30" fill="rgb(112,112,112)"/><ellipse cx="1110" cy="35" rx="40" ry="22" fill="rgb(84,84,84)"/><ellipse cx="1135" cy="95" rx="30" ry="18" fill="rgb(84,84,84)"/><path d="M20,200 C30,120 50,60 60,10" fill="none" stroke="rgb(153,153,153)" stroke-width="44" stroke-linecap="round" stroke-linejoin="round"/><ellipse cx="135" cy="40" rx="34" ry="40" fill="rgb(163,163,163)" transform="rotate(-20 135 40)"/><path d="M110,200 C150,120 180,70 210,10" fill="none" stroke="rgb(107,107,107)" stroke-width="18" stroke-linecap="round" stroke-linejoin="round"/><path d="M20,280 C60,200 100,140 130,100" fill="none" stroke="rgb(102,102,102)" stroke-width="16" stroke-linecap="round" stroke-linejoin="round"/><path d="M340,80 C350,50 360,30 365,0" fill="none" stroke="rgb(107,107,107)" stroke-width="14" stroke-linecap="round" stroke-linejoin="round"/><path d="M490,80 C495,50 500,30 505,0" fill="none" stroke="rgb(107,107,107)" stroke-width="14" stroke-linecap="round" stroke-linejoin="round"/><path d="M240,760 C260,660 340,580 440,550 S640,540 700,600 S860,560 860,680 S820,840 700,860 S520,920 440,880 S230,880 240,760Z" fill="rgb(107,107,107)"/><path d="M270,760 C290,660 380,580 470,565 S640,560 665,620 S640,760 560,790 S420,840 360,830 S260,820 270,760Z" fill="rgb(148,148,148)"/><path d="M340,720 C350,640 420,580 520,565 S650,580 650,650 S590,740 500,765 S340,790 340,720Z" fill="rgb(199,199,199)"/><ellipse cx="330" cy="790" rx="60" ry="26" fill="rgb(184,184,184)" transform="rotate(-10 330 790)"/><ellipse cx="585" cy="655" rx="46" ry="52" fill="rgb(230,230,230)" transform="rotate(20 585 655)"/><ellipse cx="628" cy="610" rx="20" ry="28" fill="rgb(227,227,227)" transform="rotate(30 628 610)"/><ellipse cx="545" cy="448" rx="72" ry="62" fill="rgb(145,145,145)"/><ellipse cx="545" cy="440" rx="50" ry="44" fill="rgb(204,204,204)"/><path d="M620,420 C720,440 790,520 810,600 S830,680 820,710" fill="none" stroke="rgb(143,143,143)" stroke-width="56" stroke-linecap="round" stroke-linejoin="round"/><ellipse cx="690" cy="460" rx="16" ry="10" fill="rgb(194,194,194)" transform="rotate(30 690 460)"/><ellipse cx="780" cy="540" rx="18" ry="24" fill="rgb(184,184,184)" transform="rotate(-20 780 540)"/><ellipse cx="825" cy="650" rx="16" ry="26" fill="rgb(178,178,178)"/><ellipse cx="570" cy="560" rx="10" ry="8" fill="rgb(194,194,194)"/><path d="M985,800 C990,860 1010,930 1040,1020" fill="none" stroke="rgb(107,107,107)" stroke-width="40" stroke-linecap="round" stroke-linejoin="round"/><ellipse cx="985" cy="860" rx="10" ry="18" fill="rgb(143,143,143)"/><ellipse cx="1000" cy="920" rx="10" ry="16" fill="rgb(143,143,143)" transform="rotate(20 1000 920)"/><ellipse cx="945" cy="935" rx="9" ry="14" fill="rgb(143,143,143)" transform="rotate(20 945 935)"/><ellipse cx="850" cy="980" rx="10" ry="20" fill="rgb(128,128,128)" transform="rotate(-20 850 980)"/><ellipse cx="1035" cy="1025" rx="30" ry="14" fill="rgb(153,153,153)"/><ellipse cx="985" cy="1085" rx="26" ry="20" fill="rgb(148,148,148)"/><ellipse cx="920" cy="1030" rx="22" ry="40" fill="rgb(112,112,112)"/><ellipse cx="830" cy="1070" rx="14" ry="10" fill="rgb(102,102,102)"/><ellipse cx="1150" cy="262" rx="18" ry="28" fill="rgb(107,107,107)"/><ellipse cx="1125" cy="412" rx="10" ry="10" fill="rgb(92,92,92)"/><ellipse cx="1068" cy="712" rx="8" ry="16" fill="rgb(102,102,102)"/><ellipse cx="645" cy="1130" rx="20" ry="26" fill="rgb(102,102,102)" transform="rotate(30 645 1130)"/><ellipse cx="750" cy="820" rx="10" ry="18" fill="rgb(138,138,138)"/></g></g></g>
<g clip-path="url(#shc2)"><rect x="955.7" y="1413.0" width="200.4" height="199.7" fill="url(#shg2)" filter="url(#shf2)"/><g filter="url(#spotblur)"><g transform="translate(955.7 1413.0) scale(0.17158)"><ellipse cx="580" cy="492" rx="18" ry="12" fill="#e80000" opacity="1.00"/><ellipse cx="530" cy="543" rx="22" ry="10" fill="#ff0000" opacity="0.85"/><ellipse cx="575" cy="580" rx="28" ry="12" fill="#ff0000" opacity="0.70" transform="rotate(-10 575 580)"/><ellipse cx="655" cy="430" rx="10" ry="10" fill="#ff0000" opacity="0.40"/><ellipse cx="855" cy="445" rx="10" ry="16" fill="#ff0000" opacity="0.40"/><ellipse cx="660" cy="610" rx="8" ry="8" fill="#ff0000" opacity="0.55"/><ellipse cx="705" cy="600" rx="8" ry="8" fill="#ff0000" opacity="0.50"/><ellipse cx="520" cy="355" rx="10" ry="20" fill="#ff0000" opacity="0.30"/><ellipse cx="640" cy="655" rx="12" ry="12" fill="#ff0000" opacity="0.30"/><ellipse cx="440" cy="490" rx="16" ry="14" fill="#ff0000" opacity="0.30"/><ellipse cx="885" cy="550" rx="8" ry="10" fill="#ff0000" opacity="0.35"/><ellipse cx="452" cy="548" rx="22" ry="7" fill="#0000e0" opacity="1.00"/><ellipse cx="400" cy="535" rx="25" ry="16" fill="#0000ff" opacity="0.45"/><ellipse cx="625" cy="445" rx="12" ry="12" fill="#0000ff" opacity="0.60"/><ellipse cx="635" cy="485" rx="9" ry="9" fill="#0000ff" opacity="0.70"/><ellipse cx="615" cy="520" rx="16" ry="8" fill="#0000ff" opacity="0.70" transform="rotate(20 615 520)"/><ellipse cx="640" cy="560" rx="10" ry="10" fill="#0000ff" opacity="0.60"/><ellipse cx="705" cy="625" rx="9" ry="9" fill="#0000ff" opacity="0.80"/><ellipse cx="790" cy="480" rx="12" ry="12" fill="#0000ff" opacity="0.35"/><ellipse cx="840" cy="555" rx="20" ry="10" fill="#0000ff" opacity="0.35"/><ellipse cx="540" cy="600" rx="10" ry="25" fill="#0000ff" opacity="0.30" transform="rotate(20 540 600)"/><ellipse cx="680" cy="575" rx="10" ry="14" fill="#0000ff" opacity="0.35"/></g></g></g>
<rect x="717.80" y="1413.00" width="200.10" height="199.70" fill="none" stroke="#222" stroke-width="0.9"/>
<rect x="955.70" y="1413.00" width="200.40" height="199.70" fill="none" stroke="#222" stroke-width="0.9"/>
<text x="817.85" y="1409.10" font-size="11.1" text-anchor="middle" fill="#111">6h old IR Data</text>
<text x="1055.90" y="1409.10" font-size="11.1" text-anchor="middle" fill="#111">SHAP Value=-3.77 kts</text>
<line x1="715.20" y1="1436.20" x2="717.80" y2="1436.20" stroke="#111" stroke-width="1.0"/>
<line x1="953.10" y1="1436.20" x2="955.70" y2="1436.20" stroke="#111" stroke-width="1.0"/>
<text x="712.60" y="1440.40" font-size="9.45" text-anchor="end" fill="#111">32</text>
<line x1="715.20" y1="1467.56" x2="717.80" y2="1467.56" stroke="#111" stroke-width="1.0"/>
<line x1="953.10" y1="1467.56" x2="955.70" y2="1467.56" stroke="#111" stroke-width="1.0"/>
<text x="712.60" y="1471.76" font-size="9.45" text-anchor="end" fill="#111">31</text>
<line x1="715.20" y1="1498.92" x2="717.80" y2="1498.92" stroke="#111" stroke-width="1.0"/>
<line x1="953.10" y1="1498.92" x2="955.70" y2="1498.92" stroke="#111" stroke-width="1.0"/>
<text x="712.60" y="1503.12" font-size="9.45" text-anchor="end" fill="#111">30</text>
<line x1="715.20" y1="1530.28" x2="717.80" y2="1530.28" stroke="#111" stroke-width="1.0"/>
<line x1="953.10" y1="1530.28" x2="955.70" y2="1530.28" stroke="#111" stroke-width="1.0"/>
<text x="712.60" y="1534.48" font-size="9.45" text-anchor="end" fill="#111">29</text>
<line x1="715.20" y1="1561.64" x2="717.80" y2="1561.64" stroke="#111" stroke-width="1.0"/>
<line x1="953.10" y1="1561.64" x2="955.70" y2="1561.64" stroke="#111" stroke-width="1.0"/>
<text x="712.60" y="1565.84" font-size="9.45" text-anchor="end" fill="#111">28</text>
<line x1="715.20" y1="1593.00" x2="717.80" y2="1593.00" stroke="#111" stroke-width="1.0"/>
<line x1="953.10" y1="1593.00" x2="955.70" y2="1593.00" stroke="#111" stroke-width="1.0"/>
<text x="712.60" y="1597.20" font-size="9.45" text-anchor="end" fill="#111">27</text>
<line x1="742.00" y1="1612.70" x2="742.00" y2="1615.30" stroke="#111" stroke-width="1.0"/>
<text x="742.00" y="1625.80" font-size="9.45" text-anchor="middle" fill="#111">138</text>
<line x1="769.28" y1="1612.70" x2="769.28" y2="1615.30" stroke="#111" stroke-width="1.0"/>
<text x="769.28" y="1625.80" font-size="9.45" text-anchor="middle" fill="#111">139</text>
<line x1="796.56" y1="1612.70" x2="796.56" y2="1615.30" stroke="#111" stroke-width="1.0"/>
<text x="796.56" y="1625.80" font-size="9.45" text-anchor="middle" fill="#111">140</text>
<line x1="823.84" y1="1612.70" x2="823.84" y2="1615.30" stroke="#111" stroke-width="1.0"/>
<text x="823.84" y="1625.80" font-size="9.45" text-anchor="middle" fill="#111">141</text>
<line x1="851.12" y1="1612.70" x2="851.12" y2="1615.30" stroke="#111" stroke-width="1.0"/>
<text x="851.12" y="1625.80" font-size="9.45" text-anchor="middle" fill="#111">142</text>
<line x1="878.40" y1="1612.70" x2="878.40" y2="1615.30" stroke="#111" stroke-width="1.0"/>
<text x="878.40" y="1625.80" font-size="9.45" text-anchor="middle" fill="#111">143</text>
<line x1="905.68" y1="1612.70" x2="905.68" y2="1615.30" stroke="#111" stroke-width="1.0"/>
<text x="905.68" y="1625.80" font-size="9.45" text-anchor="middle" fill="#111">144</text>
<line x1="980.00" y1="1612.70" x2="980.00" y2="1615.30" stroke="#111" stroke-width="1.0"/>
<line x1="1007.30" y1="1612.70" x2="1007.30" y2="1615.30" stroke="#111" stroke-width="1.0"/>
<line x1="1034.60" y1="1612.70" x2="1034.60" y2="1615.30" stroke="#111" stroke-width="1.0"/>
<line x1="1061.90" y1="1612.70" x2="1061.90" y2="1615.30" stroke="#111" stroke-width="1.0"/>
<line x1="1089.20" y1="1612.70" x2="1089.20" y2="1615.30" stroke="#111" stroke-width="1.0"/>
<line x1="1116.50" y1="1612.70" x2="1116.50" y2="1615.30" stroke="#111" stroke-width="1.0"/>
<line x1="1143.80" y1="1612.70" x2="1143.80" y2="1615.30" stroke="#111" stroke-width="1.0"/>
<g clip-path="url(#irc3)"><g filter="url(#irf3)"><rect x="703.8" y="1636.4" width="228.1" height="227.7" fill="rgb(36,36,36)"/><g transform="translate(717.8 1650.4) scale(0.17132)"><g filter="url(#cirblur)"><path d="M-20,600 C150,450 300,320 600,100" fill="none" stroke="rgb(60,60,60)" stroke-width="90" stroke-linecap="round" stroke-linejoin="round"/><path d="M-20,420 C150,300 280,200 420,60" fill="none" stroke="rgb(55,55,55)" stroke-width="60" stroke-linecap="round" stroke-linejoin="round"/><ellipse cx="1000" cy="420" rx="220" ry="280" fill="rgb(51,51,51)"/><ellipse cx="560" cy="860" rx="200" ry="90" fill="rgb(65,65,65)"/><ellipse cx="520" cy="1000" rx="420" ry="70" fill="rgb(43,43,43)"/><ellipse cx="1000" cy="140" rx="120" ry="35" fill="rgb(74,74,74)"/></g><path d="M80,640 C150,520 260,410 330,360 S520,240 640,160" fill="none" stroke="rgb(105,105,105)" stroke-width="40" stroke-linecap="round" stroke-linejoin="round"/><path d="M130,545 C200,470 270,410 335,365" fill="none" stroke="rgb(148,148,148)" stroke-width="12" stroke-linecap="round" stroke-linejoin="round"/><path d="M590,90 C640,20 720,0 800,-10 L1180,-10 L1180,240 C1100,200 1000,160 900,170 S700,140 590,90Z" fill="rgb(96,96,96)"/><ellipse cx="1080" cy="40" rx="110" ry="40" fill="rgb(110,110,110)"/><ellipse cx="760" cy="40" rx="60" ry="25" fill="rgb(110,110,110)" transform="rotate(-20 760 40)"/><ellipse cx="1130" cy="250" rx="50" ry="20" fill="rgb(102,102,102)" transform="rotate(20 1130 250)"/><ellipse cx="60" cy="60" rx="70" ry="80" fill="rgb(76,76,76)"/><path d="M20,120 C25,80 30,40 35,10" fill="none" stroke="rgb(107,107,107)" stroke-width="14" stroke-linecap="round" stroke-linejoin="round"/><path d="M110,130 C115,90 120,60 125,30" fill="none" stroke="rgb(102,102,102)" stroke-width="12" stroke-linecap="round" stroke-linejoin="round"/><path d="M340,640 C360,520 420,400 500,320 S700,280 770,300 S790,440 740,470 S640,470 640,500 S720,600 720,700 S660,840 580,880 S420,840 400,780 S320,760 340,640Z" fill="rgb(107,107,107)" stroke="rgb(107,107,107)" stroke-width="36" stroke-linejoin="round"/><path d="M480,400 C520,330 640,310 750,310 S770,440 720,450 S600,440 560,470 S470,460 480,400Z" fill="rgb(143,143,143)"/><ellipse cx="685" cy="355" rx="24" ry="26" fill="rgb(189,189,189)"/><ellipse cx="735" cy="405" rx="24" ry="28" fill="rgb(189,189,189)"/><ellipse cx="545" cy="390" rx="30" ry="8" fill="rgb(184,184,184)" transform="rotate(10 545 390)"/><path d="M420,740 C410,640 440,560 480,500 S560,470 610,530 S700,620 690,700 S640,800 560,810 S430,800 420,740Z" fill="rgb(158,158,158)"/><path d="M440,720 C430,640 460,560 490,515 S560,490 600,540 S680,620 670,690 S600,730 540,740 S450,770 440,720Z" fill="rgb(224,224,224)"/><ellipse cx="505" cy="535" rx="34" ry="38" fill="rgb(242,242,242)"/><ellipse cx="590" cy="795" rx="30" ry="24" fill="rgb(194,194,194)"/><ellipse cx="665" cy="755" rx="28" ry="24" fill="rgb(189,189,189)"/><ellipse cx="365" cy="742" rx="18" ry="18" fill="rgb(199,199,199)"/><ellipse cx="350" cy="700" rx="30" ry="20" fill="rgb(140,140,140)" transform="rotate(30 350 700)"/><ellipse cx="370" cy="620" rx="26" ry="40" fill="rgb(133,133,133)"/><ellipse cx="530" cy="775" rx="14" ry="16" fill="rgb(107,107,107)"/><ellipse cx="1152" cy="580" rx="12" ry="50" fill="rgb(107,107,107)"/><ellipse cx="1060" cy="350" rx="14" ry="10" fill="rgb(107,107,107)"/><ellipse cx="890" cy="320" rx="16" ry="10" fill="rgb(102,102,102)"/><ellipse cx="860" cy="450" rx="10" ry="10" fill="rgb(112,112,112)"/><ellipse cx="1092" cy="572" rx="12" ry="8" fill="rgb(107,107,107)"/><ellipse cx="965" cy="830" rx="8" ry="26" fill="rgb(107,107,107)"/><ellipse cx="1140" cy="920" rx="12" ry="8" fill="rgb(107,107,107)"/><ellipse cx="780" cy="580" rx="18" ry="30" fill="rgb(84,84,84)"/><ellipse cx="672" cy="1085" rx="16" ry="20" fill="rgb(168,168,168)" transform="rotate(20 672 1085)"/><ellipse cx="985" cy="1092" rx="10" ry="22" fill="rgb(117,117,117)"/><ellipse cx="600" cy="1140" rx="10" ry="8" fill="rgb(107,107,107)"/><ellipse cx="1110" cy="460" rx="6" ry="14" fill="rgb(102,102,102)"/><ellipse cx="318" cy="580" rx="10" ry="8" fill="rgb(97,97,97)"/></g></g></g>
<g clip-path="url(#shc3)"><rect x="955.7" y="1650.4" width="200.4" height="199.7" fill="url(#shg3)" filter="url(#shf3)"/><g filter="url(#spotblur)"><g transform="translate(955.7 1650.4) scale(0.17158)"><ellipse cx="440" cy="585" rx="13" ry="13" fill="#e80000" opacity="1.00"/><ellipse cx="550" cy="440" rx="12" ry="12" fill="#ff0000" opacity="0.60"/><ellipse cx="598" cy="425" rx="9" ry="9" fill="#ff0000" opacity="0.55"/><ellipse cx="720" cy="592" rx="10" ry="10" fill="#ff0000" opacity="0.45"/><ellipse cx="770" cy="630" rx="10" ry="10" fill="#ff0000" opacity="0.30"/><ellipse cx="800" cy="540" rx="10" ry="8" fill="#ff0000" opacity="0.30"/><ellipse cx="280" cy="685" rx="8" ry="12" fill="#ff0000" opacity="0.30"/><ellipse cx="780" cy="720" rx="8" ry="20" fill="#ff0000" opacity="0.30"/><ellipse cx="715" cy="770" rx="8" ry="10" fill="#ff0000" opacity="0.30"/><ellipse cx="520" cy="760" rx="8" ry="8" fill="#ff0000" opacity="0.35"/><ellipse cx="420" cy="565" rx="35" ry="14" fill="#0000ff" opacity="0.70" transform="rotate(-20 420 565)"/><ellipse cx="625" cy="470" rx="14" ry="28" fill="#0000ff" opacity="0.70"/><ellipse cx="490" cy="430" rx="40" ry="12" fill="#0000ff" opacity="0.50"/><ellipse cx="640" cy="405" rx="10" ry="10" fill="#0000ff" opacity="0.55"/><ellipse cx="400" cy="730" rx="12" ry="22" fill="#0000ff" opacity="0.55"/><ellipse cx="575" cy="585" rx="25" ry="14" fill="#0000ff" opacity="0.35"/><ellipse cx="400" cy="685" rx="10" ry="10" fill="#0000ff" opacity="0.40"/><ellipse cx="745" cy="480" rx="20" ry="14" fill="#0000ff" opacity="0.35"/><ellipse cx="570" cy="325" rx="20" ry="14" fill="#0000ff" opacity="0.25"/><ellipse cx="685" cy="455" rx="10" ry="10" fill="#0000ff" opacity="0.30"/><ellipse cx="740" cy="760" rx="8" ry="18" fill="#0000ff" opacity="0.35"/><ellipse cx="690" cy="615" rx="8" ry="8" fill="#0000ff" opacity="0.45"/><ellipse cx="385" cy="435" rx="14" ry="14" fill="#0000ff" opacity="0.30"/></g></g></g>
<rect x="717.80" y="1650.40" width="200.10" height="199.70" fill="none" stroke="#222" stroke-width="0.9"/>
<rect x="955.70" y="1650.40" width="200.40" height="199.70" fill="none" stroke="#222" stroke-width="0.9"/>
<text x="817.85" y="1646.50" font-size="11.1" text-anchor="middle" fill="#111">9h old IR Data</text>
<text x="1055.90" y="1646.50" font-size="11.1" text-anchor="middle" fill="#111">SHAP Value=-3.46 kts</text>
<line x1="715.20" y1="1660.90" x2="717.80" y2="1660.90" stroke="#111" stroke-width="1.0"/>
<line x1="953.10" y1="1660.90" x2="955.70" y2="1660.90" stroke="#111" stroke-width="1.0"/>
<text x="712.60" y="1665.10" font-size="9.45" text-anchor="end" fill="#111">32</text>
<line x1="715.20" y1="1692.22" x2="717.80" y2="1692.22" stroke="#111" stroke-width="1.0"/>
<line x1="953.10" y1="1692.22" x2="955.70" y2="1692.22" stroke="#111" stroke-width="1.0"/>
<text x="712.60" y="1696.42" font-size="9.45" text-anchor="end" fill="#111">31</text>
<line x1="715.20" y1="1723.54" x2="717.80" y2="1723.54" stroke="#111" stroke-width="1.0"/>
<line x1="953.10" y1="1723.54" x2="955.70" y2="1723.54" stroke="#111" stroke-width="1.0"/>
<text x="712.60" y="1727.74" font-size="9.45" text-anchor="end" fill="#111">30</text>
<line x1="715.20" y1="1754.86" x2="717.80" y2="1754.86" stroke="#111" stroke-width="1.0"/>
<line x1="953.10" y1="1754.86" x2="955.70" y2="1754.86" stroke="#111" stroke-width="1.0"/>
<text x="712.60" y="1759.06" font-size="9.45" text-anchor="end" fill="#111">29</text>
<line x1="715.20" y1="1786.18" x2="717.80" y2="1786.18" stroke="#111" stroke-width="1.0"/>
<line x1="953.10" y1="1786.18" x2="955.70" y2="1786.18" stroke="#111" stroke-width="1.0"/>
<text x="712.60" y="1790.38" font-size="9.45" text-anchor="end" fill="#111">28</text>
<line x1="715.20" y1="1817.50" x2="717.80" y2="1817.50" stroke="#111" stroke-width="1.0"/>
<line x1="953.10" y1="1817.50" x2="955.70" y2="1817.50" stroke="#111" stroke-width="1.0"/>
<text x="712.60" y="1821.70" font-size="9.45" text-anchor="end" fill="#111">27</text>
<line x1="715.20" y1="1848.82" x2="717.80" y2="1848.82" stroke="#111" stroke-width="1.0"/>
<line x1="953.10" y1="1848.82" x2="955.70" y2="1848.82" stroke="#111" stroke-width="1.0"/>
<text x="712.60" y="1853.02" font-size="9.45" text-anchor="end" fill="#111">26</text>
<line x1="731.70" y1="1850.10" x2="731.70" y2="1852.70" stroke="#111" stroke-width="1.0"/>
<text x="731.70" y="1863.20" font-size="9.45" text-anchor="middle" fill="#111">138</text>
<line x1="759.07" y1="1850.10" x2="759.07" y2="1852.70" stroke="#111" stroke-width="1.0"/>
<text x="759.07" y="1863.20" font-size="9.45" text-anchor="middle" fill="#111">139</text>
<line x1="786.44" y1="1850.10" x2="786.44" y2="1852.70" stroke="#111" stroke-width="1.0"/>
<text x="786.44" y="1863.20" font-size="9.45" text-anchor="middle" fill="#111">140</text>
<line x1="813.81" y1="1850.10" x2="813.81" y2="1852.70" stroke="#111" stroke-width="1.0"/>
<text x="813.81" y="1863.20" font-size="9.45" text-anchor="middle" fill="#111">141</text>
<line x1="841.18" y1="1850.10" x2="841.18" y2="1852.70" stroke="#111" stroke-width="1.0"/>
<text x="841.18" y="1863.20" font-size="9.45" text-anchor="middle" fill="#111">142</text>
<line x1="868.55" y1="1850.10" x2="868.55" y2="1852.70" stroke="#111" stroke-width="1.0"/>
<text x="868.55" y="1863.20" font-size="9.45" text-anchor="middle" fill="#111">143</text>
<line x1="895.92" y1="1850.10" x2="895.92" y2="1852.70" stroke="#111" stroke-width="1.0"/>
<text x="895.92" y="1863.20" font-size="9.45" text-anchor="middle" fill="#111">144</text>
<line x1="969.50" y1="1850.10" x2="969.50" y2="1852.70" stroke="#111" stroke-width="1.0"/>
<line x1="996.90" y1="1850.10" x2="996.90" y2="1852.70" stroke="#111" stroke-width="1.0"/>
<line x1="1024.30" y1="1850.10" x2="1024.30" y2="1852.70" stroke="#111" stroke-width="1.0"/>
<line x1="1051.70" y1="1850.10" x2="1051.70" y2="1852.70" stroke="#111" stroke-width="1.0"/>
<line x1="1079.10" y1="1850.10" x2="1079.10" y2="1852.70" stroke="#111" stroke-width="1.0"/>
<line x1="1106.50" y1="1850.10" x2="1106.50" y2="1852.70" stroke="#111" stroke-width="1.0"/>
<line x1="1133.90" y1="1850.10" x2="1133.90" y2="1852.70" stroke="#111" stroke-width="1.0"/>
<g clip-path="url(#irc4)"><g filter="url(#irf4)"><rect x="703.8" y="1874.1" width="228.1" height="227.7" fill="rgb(33,33,33)"/><g transform="translate(717.8 1888.1) scale(0.17132)"><g filter="url(#cirblur)"><ellipse cx="300" cy="250" rx="380" ry="300" fill="rgb(52,52,52)" transform="rotate(-30 300 250)"/><path d="M100,450 C200,620 400,790 700,830 S950,720 1010,580" fill="none" stroke="rgb(64,64,64)" stroke-width="70" stroke-linecap="round" stroke-linejoin="round"/><path d="M10,320 C100,200 200,100 400,-10" fill="none" stroke="rgb(64,64,64)" stroke-width="60" stroke-linecap="round" stroke-linejoin="round"/><path d="M200,500 C300,380 400,300 520,240" fill="none" stroke="rgb(61,61,61)" stroke-width="120" stroke-linecap="round" stroke-linejoin="round"/><ellipse cx="800" cy="650" rx="160" ry="150" fill="rgb(61,61,61)"/></g><path d="M640,40 C700,-10 800,-20 900,-20 L1180,-20 L1180,520 C1100,500 1000,470 960,400 S860,280 800,250 S660,140 640,40Z" fill="rgb(93,93,93)"/><ellipse cx="820" cy="60" rx="90" ry="40" fill="rgb(107,107,107)" transform="rotate(-20 820 60)"/><ellipse cx="1000" cy="430" rx="90" ry="50" fill="rgb(105,105,105)" transform="rotate(20 1000 430)"/><ellipse cx="1100" cy="380" rx="50" ry="60" fill="rgb(110,110,110)"/><ellipse cx="760" cy="170" rx="40" ry="30" fill="rgb(107,107,107)"/><path d="M880,120 C940,60 1060,40 1180,60 L1180,200 C1080,180 960,200 880,120Z" fill="rgb(120,120,120)"/><path d="M980,260 C1040,200 1120,180 1180,190 L1180,340 C1100,340 1040,320 980,260Z" fill="rgb(153,153,153)"/><ellipse cx="1150" cy="250" rx="30" ry="40" fill="rgb(168,168,168)"/><ellipse cx="930" cy="380" rx="70" ry="50" fill="rgb(76,76,76)"/><path d="M1110,520 C1090,640 1090,800 1120,960" fill="none" stroke="rgb(96,96,96)" stroke-width="60" stroke-linecap="round" stroke-linejoin="round"/><ellipse cx="1100" cy="580" rx="26" ry="40" fill="rgb(143,143,143)" transform="rotate(-20 1100 580)"/><ellipse cx="1125" cy="740" rx="20" ry="16" fill="rgb(140,140,140)"/><ellipse cx="1150" cy="1100" rx="42" ry="60" fill="rgb(107,107,107)"/><path d="M170,232 C220,190 270,160 330,130" fill="none" stroke="rgb(94,94,94)" stroke-width="18" stroke-linecap="round" stroke-linejoin="round"/><path d="M190,390 C230,310 300,240 420,170 S540,80 600,40" fill="none" stroke="rgb(102,102,102)" stroke-width="34" stroke-linecap="round" stroke-linejoin="round"/><path d="M480,40 C520,20 560,10 600,0" fill="none" stroke="rgb(92,92,92)" stroke-width="20" stroke-linecap="round" stroke-linejoin="round"/><path d="M270,640 C290,540 380,440 480,320 S700,230 810,260 S840,420 800,470 S720,500 720,560 S640,700 520,740 S380,760 330,720 S260,700 270,640Z" fill="rgb(107,107,107)" stroke="rgb(107,107,107)" stroke-width="56" stroke-linejoin="round"/><path d="M310,620 C340,540 420,420 520,300 S700,250 800,275 S820,400 790,450 S700,480 640,560 S600,640 480,680 S420,730 360,700 S300,660 310,620Z" fill="rgb(149,149,149)"/><path d="M480,540 C470,440 520,380 600,310 S800,290 800,300 S790,420 750,440 S640,420 600,440 S520,470 510,540Z" fill="rgb(193,193,193)"/><ellipse cx="590" cy="472" rx="36" ry="28" fill="rgb(209,209,209)"/><ellipse cx="572" cy="585" rx="46" ry="48" fill="rgb(221,221,221)"/><ellipse cx="568" cy="590" rx="22" ry="24" fill="rgb(233,233,233)"/><ellipse cx="410" cy="695" rx="26" ry="26" fill="rgb(214,214,214)"/><ellipse cx="350" cy="612" rx="14" ry="22" fill="rgb(199,199,199)"/><ellipse cx="430" cy="482" rx="18" ry="26" fill="rgb(189,189,189)" transform="rotate(-20 430 482)"/><path d="M830,360 C880,420 905,500 905,580" fill="none" stroke="rgb(140,140,140)" stroke-width="30" stroke-linecap="round" stroke-linejoin="round"/><ellipse cx="875" cy="440" rx="18" ry="20" fill="rgb(189,189,189)"/><path d="M760,480 C780,510 795,540 800,565" fill="none" stroke="rgb(140,140,140)" stroke-width="20" stroke-linecap="round" stroke-linejoin="round"/><path d="M650,660 C680,650 700,640 720,630" fill="none" stroke="rgb(143,143,143)" stroke-width="14" stroke-linecap="round" stroke-linejoin="round"/><path d="M760,710 C770,670 775,640 780,600" fill="none" stroke="rgb(102,102,102)" stroke-width="16" stroke-linecap="round" stroke-linejoin="round"/><path d="M990,620 C985,650 975,680 960,705" fill="none" stroke="rgb(92,92,92)" stroke-width="10" stroke-linecap="round" stroke-linejoin="round"/><ellipse cx="880" cy="640" rx="14" ry="24" fill="rgb(97,97,97)"/><ellipse cx="610" cy="522" rx="30" ry="8" fill="rgb(76,76,76)"/></g></g></g>
<g clip-path="url(#shc4)"><rect x="955.7" y="1888.1" width="200.4" height="199.7" fill="url(#shg4)" filter="url(#shf4)"/><g filter="url(#spotblur)"><g transform="translate(955.7 1888.1) scale(0.17158)"><ellipse cx="500" cy="700" rx="40" ry="14" fill="#e80000" opacity="1.00" transform="rotate(-35 500 700)"/><ellipse cx="545" cy="675" rx="36" ry="11" fill="#ff0000" opacity="0.90" transform="rotate(-35 545 675)"/><ellipse cx="560" cy="700" rx="34" ry="10" fill="#ff0000" opacity="0.85" transform="rotate(-35 560 700)"/><ellipse cx="520" cy="545" rx="12" ry="12" fill="#ff0000" opacity="0.90"/><ellipse cx="740" cy="528" rx="14" ry="14" fill="#ff0000" opacity="0.80"/><ellipse cx="430" cy="352" rx="16" ry="16" fill="#ff0000" opacity="0.70"/><ellipse cx="600" cy="725" rx="12" ry="14" fill="#ff0000" opacity="0.80"/><ellipse cx="660" cy="795" rx="14" ry="14" fill="#ff0000" opacity="0.70"/><ellipse cx="405" cy="265" rx="18" ry="18" fill="#ff0000" opacity="0.35"/><ellipse cx="495" cy="630" rx="25" ry="10" fill="#ff0000" opacity="0.60" transform="rotate(-30 495 630)"/><ellipse cx="545" cy="440" rx="14" ry="10" fill="#ff0000" opacity="0.45" transform="rotate(-20 545 440)"/><ellipse cx="560" cy="790" rx="20" ry="10" fill="#ff0000" opacity="0.50"/><ellipse cx="715" cy="760" rx="10" ry="10" fill="#ff0000" opacity="0.60"/><ellipse cx="440" cy="580" rx="20" ry="14" fill="#ff0000" opacity="0.35"/><ellipse cx="370" cy="385" rx="20" ry="14" fill="#ff0000" opacity="0.30" transform="rotate(30 370 385)"/><ellipse cx="240" cy="820" rx="25" ry="14" fill="#ff0000" opacity="0.30" transform="rotate(-20 240 820)"/><ellipse cx="350" cy="770" rx="16" ry="16" fill="#ff0000" opacity="0.30"/><ellipse cx="930" cy="900" rx="10" ry="20" fill="#ff0000" opacity="0.30"/><ellipse cx="100" cy="430" rx="25" ry="14" fill="#ff0000" opacity="0.25"/><ellipse cx="650" cy="710" rx="14" ry="20" fill="#ff0000" opacity="0.40" transform="rotate(-30 650 710)"/><ellipse cx="480" cy="668" rx="30" ry="10" fill="#0000e0" opacity="1.00" transform="rotate(-35 480 668)"/><ellipse cx="700" cy="600" rx="40" ry="14" fill="#0000e0" opacity="1.00" transform="rotate(20 700 600)"/><ellipse cx="320" cy="688" rx="22" ry="10" fill="#0000ff" opacity="0.60"/><ellipse cx="590" cy="760" rx="14" ry="22" fill="#0000ff" opacity="0.60"/><ellipse cx="610" cy="640" rx="15" ry="30" fill="#0000ff" opacity="0.45" transform="rotate(20 610 640)"/><ellipse cx="720" cy="720" rx="16" ry="40" fill="#0000ff" opacity="0.50" transform="rotate(-30 720 720)"/><ellipse cx="460" cy="860" rx="18" ry="30" fill="#0000ff" opacity="0.40"/><ellipse cx="385" cy="820" rx="16" ry="16" fill="#0000ff" opacity="0.40"/><ellipse cx="490" cy="590" rx="25" ry="10" fill="#0000ff" opacity="0.60" transform="rotate(-30 490 590)"/><ellipse cx="465" cy="320" rx="8" ry="20" fill="#0000ff" opacity="0.45"/><ellipse cx="530" cy="500" rx="10" ry="20" fill="#0000ff" opacity="0.40" transform="rotate(20 530 500)"/><ellipse cx="640" cy="810" rx="10" ry="10" fill="#0000ff" opacity="0.50"/><ellipse cx="330" cy="790" rx="12" ry="14" fill="#0000ff" opacity="0.30"/><ellipse cx="790" cy="430" rx="8" ry="10" fill="#0000ff" opacity="0.35"/><ellipse cx="200" cy="610" rx="20" ry="10" fill="#0000ff" opacity="0.25"/><ellipse cx="280" cy="940" rx="16" ry="25" fill="#0000ff" opacity="0.25"/><ellipse cx="780" cy="830" rx="10" ry="30" fill="#0000ff" opacity="0.30" transform="rotate(-20 780 830)"/></g></g></g>
<rect x="717.80" y="1888.10" width="200.10" height="199.70" fill="none" stroke="#222" stroke-width="0.9"/>
<rect x="955.70" y="1888.10" width="200.40" height="199.70" fill="none" stroke="#222" stroke-width="0.9"/>
<text x="817.85" y="1884.20" font-size="11.1" text-anchor="middle" fill="#111">12h old IR Data</text>
<text x="1055.90" y="1884.20" font-size="11.1" text-anchor="middle" fill="#111">SHAP Value=-11.92 kts</text>
<line x1="715.20" y1="1914.00" x2="717.80" y2="1914.00" stroke="#111" stroke-width="1.0"/>
<line x1="953.10" y1="1914.00" x2="955.70" y2="1914.00" stroke="#111" stroke-width="1.0"/>
<text x="712.60" y="1918.20" font-size="9.45" text-anchor="end" fill="#111">31</text>
<line x1="715.20" y1="1945.44" x2="717.80" y2="1945.44" stroke="#111" stroke-width="1.0"/>
<line x1="953.10" y1="1945.44" x2="955.70" y2="1945.44" stroke="#111" stroke-width="1.0"/>
<text x="712.60" y="1949.64" font-size="9.45" text-anchor="end" fill="#111">30</text>
<line x1="715.20" y1="1976.88" x2="717.80" y2="1976.88" stroke="#111" stroke-width="1.0"/>
<line x1="953.10" y1="1976.88" x2="955.70" y2="1976.88" stroke="#111" stroke-width="1.0"/>
<text x="712.60" y="1981.08" font-size="9.45" text-anchor="end" fill="#111">29</text>
<line x1="715.20" y1="2008.32" x2="717.80" y2="2008.32" stroke="#111" stroke-width="1.0"/>
<line x1="953.10" y1="2008.32" x2="955.70" y2="2008.32" stroke="#111" stroke-width="1.0"/>
<text x="712.60" y="2012.52" font-size="9.45" text-anchor="end" fill="#111">28</text>
<line x1="715.20" y1="2039.76" x2="717.80" y2="2039.76" stroke="#111" stroke-width="1.0"/>
<line x1="953.10" y1="2039.76" x2="955.70" y2="2039.76" stroke="#111" stroke-width="1.0"/>
<text x="712.60" y="2043.96" font-size="9.45" text-anchor="end" fill="#111">27</text>
<line x1="715.20" y1="2071.20" x2="717.80" y2="2071.20" stroke="#111" stroke-width="1.0"/>
<line x1="953.10" y1="2071.20" x2="955.70" y2="2071.20" stroke="#111" stroke-width="1.0"/>
<text x="712.60" y="2075.40" font-size="9.45" text-anchor="end" fill="#111">26</text>
<line x1="745.20" y1="2087.80" x2="745.20" y2="2090.40" stroke="#111" stroke-width="1.0"/>
<text x="745.20" y="2100.90" font-size="9.45" text-anchor="middle" fill="#111">139</text>
<line x1="772.63" y1="2087.80" x2="772.63" y2="2090.40" stroke="#111" stroke-width="1.0"/>
<text x="772.63" y="2100.90" font-size="9.45" text-anchor="middle" fill="#111">140</text>
<line x1="800.06" y1="2087.80" x2="800.06" y2="2090.40" stroke="#111" stroke-width="1.0"/>
<text x="800.06" y="2100.90" font-size="9.45" text-anchor="middle" fill="#111">141</text>
<line x1="827.49" y1="2087.80" x2="827.49" y2="2090.40" stroke="#111" stroke-width="1.0"/>
<text x="827.49" y="2100.90" font-size="9.45" text-anchor="middle" fill="#111">142</text>
<line x1="854.92" y1="2087.80" x2="854.92" y2="2090.40" stroke="#111" stroke-width="1.0"/>
<text x="854.92" y="2100.90" font-size="9.45" text-anchor="middle" fill="#111">143</text>
<line x1="882.35" y1="2087.80" x2="882.35" y2="2090.40" stroke="#111" stroke-width="1.0"/>
<text x="882.35" y="2100.90" font-size="9.45" text-anchor="middle" fill="#111">144</text>
<line x1="909.78" y1="2087.80" x2="909.78" y2="2090.40" stroke="#111" stroke-width="1.0"/>
<text x="909.78" y="2100.90" font-size="9.45" text-anchor="middle" fill="#111">145</text>
<line x1="982.50" y1="2087.80" x2="982.50" y2="2090.40" stroke="#111" stroke-width="1.0"/>
<line x1="1009.90" y1="2087.80" x2="1009.90" y2="2090.40" stroke="#111" stroke-width="1.0"/>
<line x1="1037.30" y1="2087.80" x2="1037.30" y2="2090.40" stroke="#111" stroke-width="1.0"/>
<line x1="1064.70" y1="2087.80" x2="1064.70" y2="2090.40" stroke="#111" stroke-width="1.0"/>
<line x1="1092.10" y1="2087.80" x2="1092.10" y2="2090.40" stroke="#111" stroke-width="1.0"/>
<line x1="1119.50" y1="2087.80" x2="1119.50" y2="2090.40" stroke="#111" stroke-width="1.0"/>
<line x1="1146.90" y1="2087.80" x2="1146.90" y2="2090.40" stroke="#111" stroke-width="1.0"/>
<linearGradient id="btgrad" x1="0" x2="1" y1="0" y2="0"><stop offset="0.0000" stop-color="#800080"/><stop offset="0.0762" stop-color="#ff00ff"/><stop offset="0.0769" stop-color="#ffffff"/><stop offset="0.1538" stop-color="#000000"/><stop offset="0.2115" stop-color="#800000"/><stop offset="0.2692" stop-color="#ff0000"/><stop offset="0.3269" stop-color="#ff8800"/><stop offset="0.3846" stop-color="#ffff00"/><stop offset="0.4462" stop-color="#80ff00"/><stop offset="0.5077" stop-color="#00ff00"/><stop offset="0.5615" stop-color="#008040"/><stop offset="0.6154" stop-color="#0000ff"/><stop offset="0.6692" stop-color="#0080ff"/><stop offset="0.7185" stop-color="#00ffff"/><stop offset="0.7192" stop-color="#ffffff"/><stop offset="1.0000" stop-color="#000000"/></linearGradient>
<rect x="717.80" y="2125.50" width="200.10" height="12.70" fill="url(#btgrad)" stroke="#222" stroke-width="0.7"/>
<text x="817.85" y="2121.60" font-size="9.75" text-anchor="middle" fill="#111">Brightness Temperature [K]</text>
<line x1="717.80" y1="2138.20" x2="717.80" y2="2140.20" stroke="#222" stroke-width="0.7"/>
<text x="717.80" y="2148.60" font-size="7.0" text-anchor="middle" fill="#222">180</text>
<line x1="748.57" y1="2138.20" x2="748.57" y2="2140.20" stroke="#222" stroke-width="0.7"/>
<text x="748.57" y="2148.60" font-size="7.0" text-anchor="middle" fill="#222">200</text>
<line x1="779.34" y1="2138.20" x2="779.34" y2="2140.20" stroke="#222" stroke-width="0.7"/>
<text x="779.34" y="2148.60" font-size="7.0" text-anchor="middle" fill="#222">220</text>
<line x1="810.11" y1="2138.20" x2="810.11" y2="2140.20" stroke="#222" stroke-width="0.7"/>
<text x="810.11" y="2148.60" font-size="7.0" text-anchor="middle" fill="#222">240</text>
<line x1="840.88" y1="2138.20" x2="840.88" y2="2140.20" stroke="#222" stroke-width="0.7"/>
<text x="840.88" y="2148.60" font-size="7.0" text-anchor="middle" fill="#222">260</text>
<line x1="871.65" y1="2138.20" x2="871.65" y2="2140.20" stroke="#222" stroke-width="0.7"/>
<text x="871.65" y="2148.60" font-size="7.0" text-anchor="middle" fill="#222">280</text>
<line x1="902.42" y1="2138.20" x2="902.42" y2="2140.20" stroke="#222" stroke-width="0.7"/>
<text x="902.42" y="2148.60" font-size="7.0" text-anchor="middle" fill="#222">300</text>
<linearGradient id="seis" x1="0" x2="1" y1="0" y2="0"><stop offset="0" stop-color="#00004c"/><stop offset="0.25" stop-color="#0000ff"/><stop offset="0.5" stop-color="#ffffff"/><stop offset="0.75" stop-color="#ff0000"/><stop offset="1" stop-color="#800000"/></linearGradient>
<rect x="955.70" y="2125.50" width="200.40" height="12.70" fill="url(#seis)" stroke="#222" stroke-width="0.7"/>
<text x="1055.90" y="2121.60" font-size="9.7" text-anchor="middle" fill="#111">SHAP Values</text>
<line x1="977.80" y1="2138.20" x2="977.80" y2="2140.50" stroke="#222" stroke-width="0.8"/>
<text x="977.80" y="2150.50" font-size="9.75" text-anchor="middle" fill="#111">−0.10</text>
<line x1="1016.70" y1="2138.20" x2="1016.70" y2="2140.50" stroke="#222" stroke-width="0.8"/>
<text x="1016.70" y="2150.50" font-size="9.75" text-anchor="middle" fill="#111">−0.05</text>
<line x1="1055.60" y1="2138.20" x2="1055.60" y2="2140.50" stroke="#222" stroke-width="0.8"/>
<text x="1055.60" y="2150.50" font-size="9.75" text-anchor="middle" fill="#111">0.00</text>
<line x1="1094.50" y1="2138.20" x2="1094.50" y2="2140.50" stroke="#222" stroke-width="0.8"/>
<text x="1094.50" y="2150.50" font-size="9.75" text-anchor="middle" fill="#111">0.05</text>
<line x1="1133.40" y1="2138.20" x2="1133.40" y2="2140.50" stroke="#222" stroke-width="0.8"/>
<text x="1133.40" y="2150.50" font-size="9.75" text-anchor="middle" fill="#111">0.10</text>
</svg>
</body></html>
